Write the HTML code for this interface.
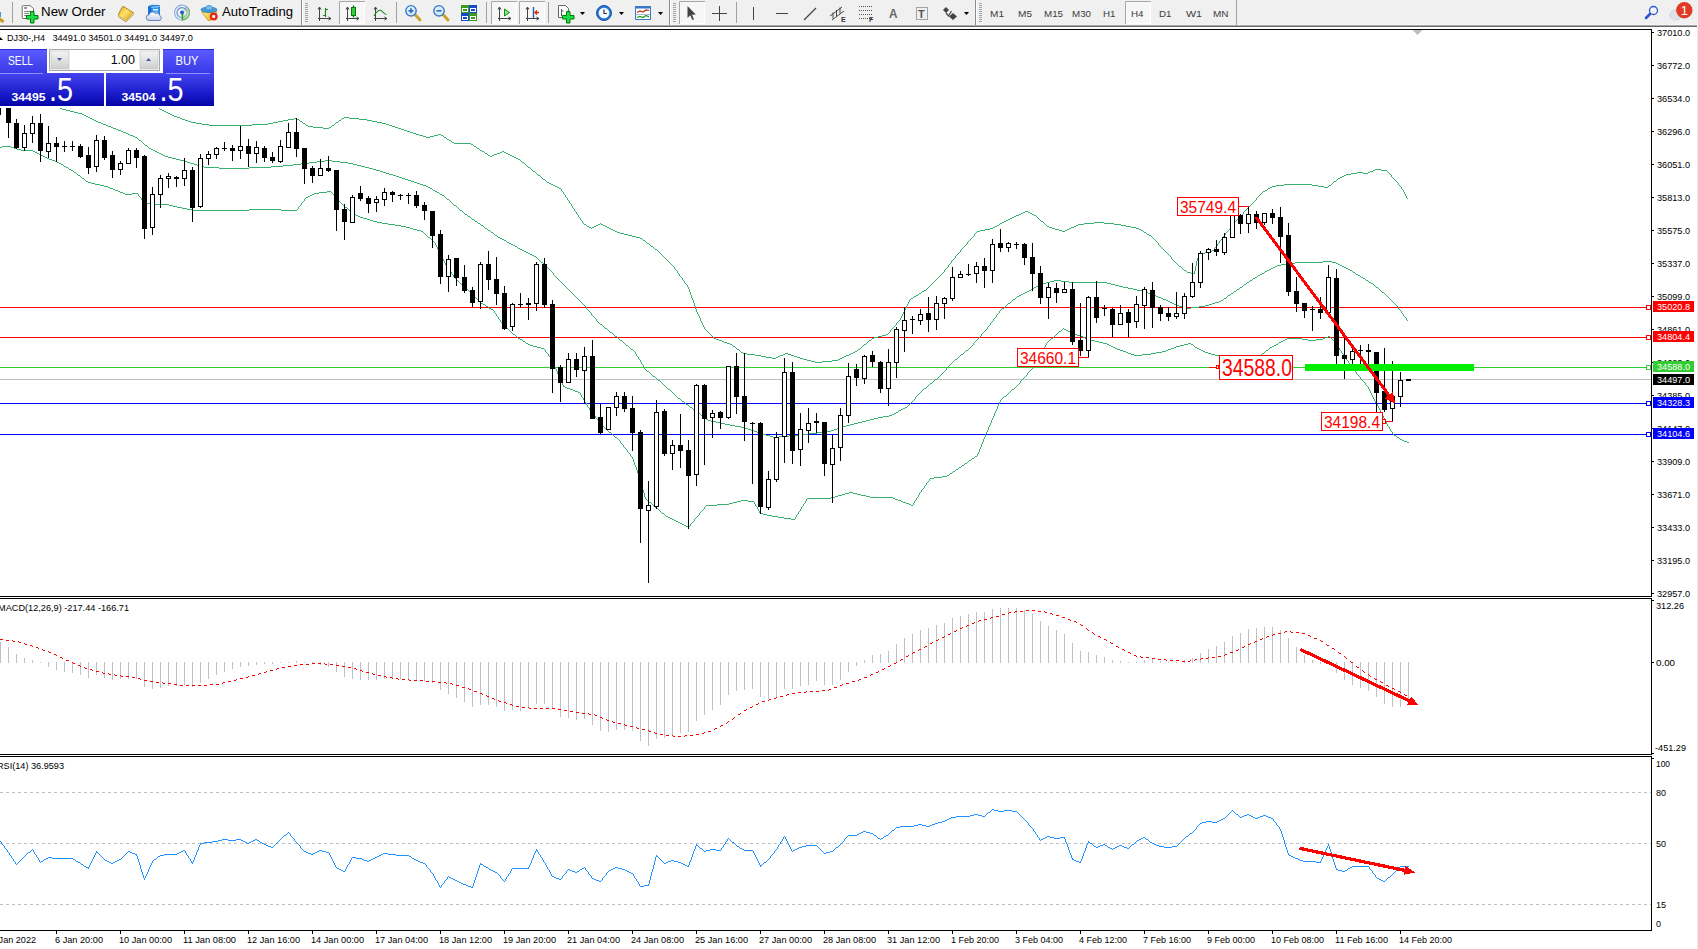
<!DOCTYPE html>
<html><head><meta charset="utf-8"><title>DJ30 H4</title>
<style>
html,body{margin:0;padding:0;background:#fff;}
body{width:1698px;height:949px;overflow:hidden;position:relative;font-family:"Liberation Sans",sans-serif;}
#tb{position:absolute;left:0;top:0;width:1698px;height:25px;background:#f0f0f0;}
#tbl1{position:absolute;left:0;top:25px;width:1698px;height:1px;background:#a0a0a0;}
#tbl2{position:absolute;left:0;top:26px;width:1698px;height:1px;background:#d4d4d4;}
#chart{position:absolute;left:0;top:0;}
.tbt{position:absolute;top:5px;font-size:13px;color:#000;white-space:nowrap;}
.tf{position:absolute;top:7px;font-size:10px;color:#222;white-space:nowrap;}
.sep{position:absolute;top:3px;width:1px;height:20px;background:#a0a0a0;}
.grip{position:absolute;top:3px;width:3px;height:20px;background:repeating-linear-gradient(to bottom,#a8a8a8 0,#a8a8a8 1px,#f0f0f0 1px,#f0f0f0 2px);}
</style></head><body>


<svg id="chart" width="1698" height="949" viewBox="0 0 1698 949">
<defs><clipPath id="mainclip"><rect x="0" y="30" width="1651" height="566"/></clipPath></defs>
<g shape-rendering="crispEdges">
<rect x="0" y="379" width="1651" height="1" fill="#c0c0c0"/>
<rect x="0" y="307" width="1651" height="1" fill="#ff0000"/>
<rect x="0" y="337" width="1651" height="1" fill="#ff0000"/>
<rect x="0" y="367" width="1651" height="1" fill="#32cd32"/>
<rect x="0" y="403" width="1651" height="1" fill="#0000ff"/>
<rect x="0" y="434" width="1651" height="1" fill="#0000ff"/>
</g>
<g clip-path="url(#mainclip)" shape-rendering="crispEdges">
<path d="M159 108.5h1M160 109.5h2M162 110.5h2M164 111.5h2M166 112.5h2M168 113.5h2M170 114.5h2M172 115.5h2M174 116.5h3M177 117.5h3M180 118.5h2M182 119.5h3M185 120.5h3M188 121.5h3M191 122.5h5M196 123.5h6M202 124.5h7M209 125.5h43M252 124.5h16M268 123.5h5M273 122.5h5M278 121.5h5M283 120.5h5M288 119.5h6M294 118.5h3M297 119.5h2M299 120.5h1M300 121.5h2M302 122.5h1M303 123.5h2M305 124.5h1M306 125.5h2M308 126.5h5M313 127.5h10M323 128.5h6M329 127.5h2M331 126.5h1M332 125.5h2M334 124.5h1M335 123.5h1M336 122.5h2M338 121.5h1M339 120.5h2M341 119.5h1M342 118.5h2M344 117.5h5M349 118.5h10M359 119.5h8M367 120.5h5M372 121.5h5M377 122.5h5M382 123.5h4M386 124.5h3M389 125.5h3M392 126.5h3M395 127.5h3M398 128.5h3M401 129.5h3M404 130.5h3M407 131.5h3M410 132.5h3M413 133.5h3M416 134.5h3M419 135.5h4M423 136.5h3M426 137.5h4M430 136.5h4M434 135.5h4M438 134.5h3M441 135.5h2M443 136.5h1M444 137.5h2M446 138.5h1M447 139.5h2M449 140.5h2M451 141.5h1M452 142.5h2M454 143.5h17M471 144.5h2M473 145.5h1M474 146.5h2M476 147.5h1M477 148.5h2M479 149.5h1M480 150.5h2M482 151.5h2M484 152.5h1M485 153.5h2M487 154.5h1M488 155.5h2M490 156.5h2M492 155.5h2M494 154.5h3M497 153.5h3M500 152.5h2M502 151.5h2M504 152.5h2M506 153.5h2M508 154.5h2M510 155.5h2M512 156.5h2M514 157.5h2M516 158.5h2M518 159.5h2M520 160.5h1M521 161.5h1M522 162.5h2M524 163.5h1M525 164.5h1M526 165.5h1M527 166.5h1M528 167.5h2M530 168.5h1M531 169.5h1M532 170.5h1M533 171.5h2M535 172.5h1M536 173.5h1M537 174.5h1M538 175.5h2M540 176.5h1M541 177.5h1M542 178.5h1M543 179.5h2M545 180.5h1M546 181.5h1M547 182.5h2M549 183.5h2M551 184.5h2M553 185.5h2M555 186.5h2M557 187.5h2M559 188.5h2M561.5 189v2M562 191.5h1M563.5 192v2M564 194.5h1M565.5 195v2M566 197.5h1M567.5 198v2M568 200.5h1M569.5 201v2M570 203.5h1M571.5 204v2M572.5 206v2M573 208.5h1M574.5 209v2M575 211.5h1M576.5 212v2M577 214.5h1M578.5 215v2M579 217.5h1M580.5 218v2M581 220.5h1M582.5 221v2M583 223.5h1M584 224.5h2M586 225.5h1M587 226.5h2M589 227.5h2M591 228.5h1M592 227.5h2M594 226.5h2M596 225.5h2M598 224.5h2M600 223.5h1M601 224.5h2M603 225.5h2M605 226.5h2M607 227.5h2M609 228.5h2M611 229.5h2M613 230.5h2M615 231.5h2M617 232.5h3M620 233.5h4M624 234.5h4M628 235.5h4M632 236.5h4M636 237.5h4M640 238.5h2M642 239.5h1M643 240.5h2M645 241.5h1M646 242.5h1M647 243.5h2M649 244.5h1M650 245.5h1M651 246.5h2M653 247.5h1M654 248.5h1M655 249.5h2M657 250.5h1M658 251.5h1M659 252.5h1M660 253.5h1M661 254.5h1M662 255.5h1M663 256.5h1M664 257.5h1M665 258.5h1M666 259.5h1M667 260.5h1M668 261.5h1M669 262.5h1M670 263.5h1M671 264.5h1M672 265.5h1M673 266.5h1M674.5 267v2M675 269.5h1M676 270.5h1M677.5 271v2M678 273.5h1M679.5 274v2M680 276.5h1M681 277.5h1M682.5 278v2M683 280.5h1M684.5 281v2M685 283.5h1M686 284.5h1M687.5 285v2M688.5 287v2M689.5 289v3M690.5 292v3M691.5 295v3M692.5 298v2M693.5 300v3M694.5 303v3M695.5 306v3M696.5 309v3M697.5 312v2M698.5 314v2M699.5 316v2M700.5 318v3M701.5 321v2M702.5 323v2M703.5 325v2M704.5 327v2M705 329.5h1M706 330.5h1M707 331.5h1M708 332.5h1M709 333.5h1M710 334.5h1M711 335.5h1M712 336.5h1M713 337.5h1M714 338.5h2M716 339.5h3M719 340.5h3M722 341.5h2M724 342.5h3M727 343.5h3M730 344.5h2M732 345.5h1M733 346.5h2M735 347.5h1M736 348.5h1M737 349.5h2M739 350.5h1M740 351.5h1M741 352.5h2M743 353.5h4M747 354.5h8M755 355.5h6M761 356.5h5M766 357.5h6M772 358.5h4M776 357.5h2M778 356.5h2M780 355.5h3M783 354.5h2M785 353.5h3M788 354.5h3M791 355.5h3M794 356.5h3M797 357.5h3M800 358.5h3M803 359.5h4M807 360.5h4M811 361.5h4M815 362.5h7M822 361.5h10M832 360.5h6M838 359.5h2M840 358.5h2M842 357.5h2M844 356.5h2M846 355.5h3M849 354.5h2M851 353.5h2M853 352.5h2M855 351.5h2M857 350.5h1M858 349.5h2M860 348.5h1M861 347.5h1M862 346.5h1M863 345.5h1M864 344.5h2M866 343.5h1M867 342.5h1M868 341.5h1M869 340.5h2M871 339.5h1M872 338.5h2M874 337.5h4M878 336.5h4M882 335.5h4M886 334.5h2M888 333.5h1M889 332.5h1M890.5 330v2M891 329.5h1M892 328.5h1M893 327.5h1M894 326.5h1M895 325.5h1M896.5 323v2M897 322.5h1M898 321.5h1M899 320.5h1M900.5 318v2M901.5 316v2M902.5 314v2M903.5 312v2M904.5 310v2M905.5 308v2M906.5 306v2M907.5 304v2M908.5 302v2M909.5 300v2M910 299.5h1M911 298.5h2M913 297.5h1M914 296.5h2M916 295.5h2M918 294.5h1M919 293.5h2M921 292.5h1M922 291.5h2M924 290.5h2M926 289.5h1M927 288.5h1M928 287.5h1M929 286.5h1M930 285.5h1M931 284.5h1M932 283.5h1M933 282.5h1M934 281.5h1M935 280.5h1M936 279.5h1M937 278.5h1M938 277.5h1M939 276.5h1M940 275.5h1M941 274.5h1M942 273.5h1M943 272.5h1M944.5 270v2M945 269.5h1M946 268.5h1M947 267.5h1M948.5 265v2M949 264.5h1M950 263.5h1M951.5 261v2M952 260.5h1M953 259.5h1M954 258.5h1M955.5 256v2M956 255.5h1M957 254.5h1M958 253.5h1M959 252.5h1M960.5 250v2M961 249.5h1M962 248.5h1M963 247.5h1M964 246.5h1M965 245.5h1M966 244.5h1M967.5 242v2M968 241.5h1M969 240.5h1M970 239.5h1M971 238.5h1M972 237.5h1M973 236.5h1M974.5 234v2M975 233.5h1M976 232.5h1M977 231.5h3M980 230.5h5M985 229.5h5M990 228.5h3M993 227.5h2M995 226.5h2M997 225.5h2M999 224.5h1M1000 223.5h2M1002 222.5h2M1004 221.5h2M1006 220.5h2M1008 219.5h2M1010 218.5h2M1012 217.5h2M1014 216.5h2M1016 215.5h3M1019 214.5h2M1021 213.5h2M1023 212.5h2M1025 211.5h3M1028 212.5h2M1030 213.5h2M1032 214.5h2M1034 215.5h2M1036 216.5h1M1037 217.5h1M1038 218.5h1M1039 219.5h1M1040 220.5h1M1041 221.5h2M1043 222.5h1M1044 223.5h1M1045 224.5h1M1046 225.5h1M1047 226.5h2M1049 227.5h3M1052 228.5h3M1055 229.5h4M1059 230.5h3M1062 231.5h3M1065 230.5h2M1067 229.5h2M1069 228.5h2M1071 227.5h3M1074 226.5h2M1076 225.5h2M1078 224.5h6M1084 223.5h10M1094 222.5h10M1104 223.5h10M1114 224.5h7M1121 225.5h5M1126 226.5h5M1131 227.5h5M1136 228.5h3M1139 229.5h2M1141 230.5h2M1143 231.5h1M1144 232.5h2M1146 233.5h1M1147 234.5h2M1149 235.5h2M1151 236.5h1M1152 237.5h1M1153 238.5h1M1154 239.5h1M1155 240.5h1M1156 241.5h1M1157 242.5h1M1158.5 243v2M1159 245.5h1M1160 246.5h1M1161 247.5h1M1162 248.5h1M1163 249.5h1M1164 250.5h1M1165 251.5h1M1166 252.5h1M1167 253.5h1M1168 254.5h1M1169 255.5h1M1170 256.5h1M1171.5 257v2M1172 259.5h1M1173 260.5h1M1174 261.5h1M1175 262.5h1M1176 263.5h1M1177 264.5h1M1178 265.5h1M1179 266.5h2M1181 267.5h1M1182 268.5h1M1183 269.5h1M1184 270.5h2M1186 271.5h1M1187 272.5h4M1191 273.5h4M1194.5 271v2M1195.5 266v5M1196.5 261v5M1197.5 258v3M1198 257.5h1M1199 256.5h1M1200 255.5h2M1202 254.5h1M1203 253.5h2M1205 252.5h3M1208 251.5h4M1212 250.5h2M1214.5 248v2M1215 247.5h1M1216 246.5h1M1217.5 244v2M1218 243.5h1M1219.5 241v2M1220 240.5h1M1221 239.5h1M1222.5 237v2M1223 236.5h1M1224 235.5h1M1225.5 233v2M1226 232.5h1M1227 231.5h1M1228 230.5h1M1229 229.5h1M1230.5 227v2M1231 226.5h1M1232 225.5h1M1233 224.5h1M1234.5 222v2M1235 221.5h1M1236 220.5h1M1237 219.5h1M1238 218.5h1M1239 217.5h1M1240 216.5h1M1241 215.5h1M1242 214.5h1M1243.5 212v2M1244 211.5h1M1245 210.5h1M1246 209.5h1M1247 208.5h1M1248 207.5h1M1249 206.5h1M1250 205.5h1M1251 204.5h1M1252 203.5h1M1253 202.5h1M1254 201.5h1M1255 200.5h1M1256.5 198v2M1257 197.5h1M1258 196.5h1M1259 195.5h1M1260 194.5h1M1261 193.5h1M1262 192.5h1M1263 191.5h2M1265 190.5h2M1267 189.5h1M1268 188.5h2M1270 187.5h2M1272 186.5h4M1276 185.5h8M1284 184.5h28M1312 185.5h6M1318 186.5h6M1324 187.5h4M1328 186.5h1M1329 185.5h2M1331 184.5h1M1332 183.5h1M1333 182.5h1M1334 181.5h2M1336 180.5h1M1337 179.5h1M1338 178.5h2M1340 177.5h2M1342 176.5h2M1344 175.5h2M1346 174.5h5M1351 173.5h6M1357 172.5h6M1363 173.5h5M1368 172.5h2M1370 171.5h3M1373 170.5h2M1375 169.5h6M1381 170.5h6M1387 171.5h1M1388 172.5h1M1389 173.5h1M1390 174.5h1M1391.5 175v2M1392 177.5h1M1393 178.5h1M1394 179.5h1M1395 180.5h1M1396 181.5h1M1397 182.5h1M1398.5 183v2M1399 185.5h1M1400 186.5h1M1401.5 187v2M1402 189.5h1M1403.5 190v2M1404.5 192v2M1405.5 194v2M1406.5 196v2M1407 198.5h1" fill="none" stroke="#3ab06e" stroke-width="1"/>
<path d="M60 108.5h2M62 109.5h4M66 110.5h4M70 111.5h4M74 112.5h4M78 113.5h4M82 114.5h2M84 115.5h2M86 116.5h2M88 117.5h2M90 118.5h2M92 119.5h2M94 120.5h2M96 121.5h2M98 122.5h3M101 123.5h2M103 124.5h3M106 125.5h2M108 126.5h3M111 127.5h2M113 128.5h3M116 129.5h2M118 130.5h3M121 131.5h2M123 132.5h3M126 133.5h2M128 134.5h2M130 135.5h3M133 136.5h2M135 137.5h2M137 138.5h1M138 139.5h1M139 140.5h2M141 141.5h1M142 142.5h1M143 143.5h1M144 144.5h1M145 145.5h2M147 146.5h1M148 147.5h1M149 148.5h2M151 149.5h2M153 150.5h2M155 151.5h2M157 152.5h2M159 153.5h2M161 154.5h2M163 155.5h2M165 156.5h3M168 157.5h4M172 158.5h4M176 159.5h4M180 160.5h4M184 161.5h3M187 162.5h3M190 163.5h4M194 164.5h3M197 165.5h3M200 166.5h4M204 167.5h15M219 168.5h30M249 167.5h22M271 166.5h12M283 165.5h10M293 164.5h8M301 163.5h8M309 162.5h8M317 161.5h8M325 160.5h7M332 161.5h8M340 162.5h8M348 163.5h5M353 164.5h4M357 165.5h4M361 166.5h4M365 167.5h4M369 168.5h4M373 169.5h3M376 170.5h4M380 171.5h3M383 172.5h3M386 173.5h3M389 174.5h4M393 175.5h3M396 176.5h3M399 177.5h3M402 178.5h3M405 179.5h3M408 180.5h3M411 181.5h3M414 182.5h3M417 183.5h3M420 184.5h3M423 185.5h3M426 186.5h2M428 187.5h2M430 188.5h2M432 189.5h1M433 190.5h2M435 191.5h2M437 192.5h2M439 193.5h1M440 194.5h2M442 195.5h2M444 196.5h1M445 197.5h1M446 198.5h1M447 199.5h2M449 200.5h1M450 201.5h1M451 202.5h1M452 203.5h1M453 204.5h1M454 205.5h2M456 206.5h1M457 207.5h1M458 208.5h1M459 209.5h1M460 210.5h2M462 211.5h1M463 212.5h1M464 213.5h1M465 214.5h2M467 215.5h1M468 216.5h2M470 217.5h1M471 218.5h1M472 219.5h2M474 220.5h1M475 221.5h2M477 222.5h1M478 223.5h2M480 224.5h1M481 225.5h2M483 226.5h1M484 227.5h1M485 228.5h2M487 229.5h1M488 230.5h2M490 231.5h1M491 232.5h2M493 233.5h1M494 234.5h1M495 235.5h2M497 236.5h1M498 237.5h2M500 238.5h2M502 239.5h2M504 240.5h2M506 241.5h1M507 242.5h2M509 243.5h2M511 244.5h2M513 245.5h2M515 246.5h2M517 247.5h1M518 248.5h2M520 249.5h2M522 250.5h2M524 251.5h2M526 252.5h2M528 253.5h2M530 254.5h2M532 255.5h2M534 256.5h2M536 257.5h1M537 258.5h1M538 259.5h1M539 260.5h1M540 261.5h1M541 262.5h2M543 263.5h1M544 264.5h1M545 265.5h1M546 266.5h1M547 267.5h1M548 268.5h1M549 269.5h1M550 270.5h1M551 271.5h1M552 272.5h1M553.5 273v2M554 275.5h1M555 276.5h1M556 277.5h1M557 278.5h1M558 279.5h1M559 280.5h1M560 281.5h1M561 282.5h1M562 283.5h1M563 284.5h1M564 285.5h1M565 286.5h1M566 287.5h1M567 288.5h1M568 289.5h1M569 290.5h1M570 291.5h1M571 292.5h1M572 293.5h1M573 294.5h1M574 295.5h1M575 296.5h1M576 297.5h1M577 298.5h1M578 299.5h1M579 300.5h1M580 301.5h1M581 302.5h1M582 303.5h1M583 304.5h1M584 305.5h1M585 306.5h1M586.5 307v2M587 309.5h1M588 310.5h1M589 311.5h1M590 312.5h1M591.5 313v2M592 315.5h1M593 316.5h1M594 317.5h1M595 318.5h1M596.5 319v2M597 321.5h1M598 322.5h1M599 323.5h1M600 324.5h2M602 325.5h1M603 326.5h1M604 327.5h1M605 328.5h2M607 329.5h1M608 330.5h1M609 331.5h1M610 332.5h2M612 333.5h1M613 334.5h1M614 335.5h1M615 336.5h2M617 337.5h1M618 338.5h1M619 339.5h1M620 340.5h2M622 341.5h1M623 342.5h1M624 343.5h1M625 344.5h1M626 345.5h2M628 346.5h1M629 347.5h1M630 348.5h1M631 349.5h2M633 350.5h1M634 351.5h1M635.5 352v2M636.5 354v2M637 356.5h1M638.5 357v2M639 359.5h1M640.5 360v2M641.5 362v2M642 364.5h1M643.5 365v2M644.5 367v2M645 369.5h1M646 370.5h1M647 371.5h2M649 372.5h1M650 373.5h1M651 374.5h1M652 375.5h1M653 376.5h2M655 377.5h1M656 378.5h1M657 379.5h1M658 380.5h2M660 381.5h1M661 382.5h1M662 383.5h1M663 384.5h1M664 385.5h1M665 386.5h1M666 387.5h1M667 388.5h1M668 389.5h2M670 390.5h1M671 391.5h1M672 392.5h1M673 393.5h1M674 394.5h1M675 395.5h1M676 396.5h1M677 397.5h1M678 398.5h2M680 399.5h1M681 400.5h1M682 401.5h2M684 402.5h1M685 403.5h1M686 404.5h2M688 405.5h1M689 406.5h1M690 407.5h2M692 408.5h1M693 409.5h1M694 410.5h2M696 411.5h1M697 412.5h1M698 413.5h2M700 414.5h1M701 415.5h1M702 416.5h2M704 417.5h1M705 418.5h1M706 419.5h2M708 420.5h3M711 421.5h5M716 422.5h4M720 423.5h5M725 424.5h5M730 425.5h5M735 426.5h6M741 427.5h4M745 428.5h3M748 429.5h3M751 430.5h3M754 431.5h3M757 432.5h3M760 433.5h3M763 434.5h3M766 435.5h4M770 436.5h3M773 437.5h6M779 436.5h10M789 435.5h10M799 434.5h10M809 433.5h8M817 432.5h8M825 431.5h6M831 430.5h3M834 429.5h3M837 428.5h3M840 427.5h3M843 426.5h3M846 425.5h4M850 424.5h4M854 423.5h4M858 422.5h4M862 421.5h4M866 420.5h4M870 419.5h4M874 418.5h4M878 417.5h5M883 416.5h6M889 415.5h3M892 414.5h2M894 413.5h2M896 412.5h2M898 411.5h1M899 410.5h2M901 409.5h2M903 408.5h2M905 407.5h2M907 406.5h1M908 405.5h1M909 404.5h1M910 403.5h1M911 402.5h1M912 401.5h1M913 400.5h1M914 399.5h1M915.5 397v2M916 396.5h1M917 395.5h1M918 394.5h1M919 393.5h1M920 392.5h1M921 391.5h1M922 390.5h1M923 389.5h1M924 388.5h2M926 387.5h1M927 386.5h1M928 385.5h1M929 384.5h1M930 383.5h2M932 382.5h1M933 381.5h1M934 380.5h1M935 379.5h2M937 378.5h1M938 377.5h1M939 376.5h1M940 375.5h1M941 374.5h1M942 373.5h1M943 372.5h1M944 371.5h1M945 370.5h1M946.5 368v2M947 367.5h1M948 366.5h1M949 365.5h1M950 364.5h1M951 363.5h1M952 362.5h1M953 361.5h1M954 360.5h1M955 359.5h2M957 358.5h1M958 357.5h1M959 356.5h1M960 355.5h1M961 354.5h2M963 353.5h1M964 352.5h1M965 351.5h1M966 350.5h2M968 349.5h1M969 348.5h1M970 347.5h1M971 346.5h1M972 345.5h1M973.5 343v2M974 342.5h1M975 341.5h1M976 340.5h1M977 339.5h1M978 338.5h1M979 337.5h1M980 336.5h1M981.5 334v2M982 333.5h1M983 332.5h1M984 331.5h1M985 330.5h1M986 329.5h1M987.5 327v2M988 326.5h1M989 325.5h1M990.5 323v2M991 322.5h1M992 321.5h1M993.5 319v2M994 318.5h1M995 317.5h1M996.5 315v2M997 314.5h1M998 313.5h1M999.5 311v2M1000 310.5h1M1001 309.5h1M1002 308.5h2M1004 307.5h1M1005 306.5h1M1006 305.5h1M1007 304.5h1M1008 303.5h2M1010 302.5h1M1011 301.5h1M1012 300.5h1M1013 299.5h2M1015 298.5h1M1016 297.5h1M1017 296.5h2M1019 295.5h2M1021 294.5h2M1023 293.5h2M1025 292.5h2M1027 291.5h2M1029 290.5h2M1031 289.5h1M1032 288.5h2M1034 287.5h2M1036 286.5h2M1038 285.5h2M1040 284.5h2M1042 283.5h4M1046 282.5h4M1050 281.5h4M1054 280.5h7M1061 281.5h8M1069 282.5h38M1107 283.5h4M1111 284.5h4M1115 285.5h4M1119 286.5h4M1123 287.5h5M1128 288.5h5M1133 289.5h4M1137 290.5h5M1142 291.5h4M1146 292.5h2M1148 293.5h3M1151 294.5h2M1153 295.5h3M1156 296.5h2M1158 297.5h3M1161 298.5h2M1163 299.5h3M1166 300.5h2M1168 301.5h2M1170 302.5h2M1172 303.5h2M1174 304.5h2M1176 305.5h3M1179 306.5h3M1182 307.5h4M1186 308.5h5M1191 307.5h8M1199 306.5h6M1205 305.5h4M1209 304.5h3M1212 303.5h3M1215 302.5h4M1219 301.5h2M1221 300.5h2M1223 299.5h1M1224 298.5h2M1226 297.5h1M1227 296.5h1M1228 295.5h2M1230 294.5h1M1231 293.5h2M1233 292.5h1M1234 291.5h2M1236 290.5h1M1237 289.5h2M1239 288.5h1M1240 287.5h2M1242 286.5h1M1243 285.5h1M1244 284.5h2M1246 283.5h1M1247 282.5h2M1249 281.5h1M1250 280.5h2M1252 279.5h1M1253 278.5h2M1255 277.5h2M1257 276.5h1M1258 275.5h2M1260 274.5h2M1262 273.5h2M1264 272.5h1M1265 271.5h2M1267 270.5h2M1269 269.5h2M1271 268.5h2M1273 267.5h2M1275 266.5h2M1277 265.5h4M1281 264.5h5M1286 263.5h9M1295 262.5h28M1323 261.5h9M1332 262.5h4M1336 263.5h2M1338 264.5h2M1340 265.5h2M1342 266.5h2M1344 267.5h2M1346 268.5h2M1348 269.5h2M1350 270.5h2M1352 271.5h1M1353 272.5h2M1355 273.5h1M1356 274.5h2M1358 275.5h2M1360 276.5h1M1361 277.5h2M1363 278.5h2M1365 279.5h1M1366 280.5h2M1368 281.5h1M1369 282.5h2M1371 283.5h2M1373 284.5h1M1374 285.5h1M1375 286.5h1M1376 287.5h2M1378 288.5h1M1379 289.5h1M1380 290.5h1M1381 291.5h1M1382 292.5h2M1384 293.5h1M1385 294.5h1M1386 295.5h1M1387 296.5h1M1388 297.5h1M1389 298.5h1M1390 299.5h1M1391 300.5h1M1392 301.5h1M1393 302.5h1M1394 303.5h1M1395 304.5h1M1396 305.5h1M1397 306.5h1M1398.5 307v2M1399 309.5h1M1400 310.5h1M1401.5 311v2M1402 313.5h1M1403.5 314v2M1404 316.5h1M1405 317.5h1M1406.5 318v2M1407 320.5h1" fill="none" stroke="#3ab06e" stroke-width="1"/>
<path d="M0 147.5h2M2 146.5h9M11 147.5h3M14 148.5h3M17 149.5h4M21 150.5h12M33 151.5h2M35 152.5h2M37 153.5h2M39 154.5h2M41 155.5h2M43 156.5h2M45 157.5h2M47 158.5h2M49 159.5h3M52 160.5h3M55 161.5h2M57 162.5h2M59 163.5h2M61 164.5h2M63 165.5h1M64 166.5h2M66 167.5h2M68 168.5h1M69 169.5h2M71 170.5h2M73 171.5h1M74 172.5h2M76 173.5h1M77 174.5h1M78 175.5h2M80 176.5h1M81 177.5h1M82 178.5h2M84 179.5h1M85 180.5h1M86 181.5h2M88 182.5h3M91 183.5h4M95 184.5h5M100 185.5h4M104 186.5h4M108 187.5h2M110 188.5h3M113 189.5h2M115 190.5h3M118 191.5h2M120 192.5h3M123 193.5h2M125 194.5h7M132 193.5h6M138.5 194v2M139 196.5h1M140 197.5h1M141.5 198v2M142 200.5h1M143.5 201v2M144 203.5h11M155 204.5h14M169 205.5h4M173 206.5h4M177 207.5h5M182 208.5h5M187 209.5h6M193 210.5h56M249 209.5h32M281 210.5h16M297 209.5h1M298.5 207v2M299 206.5h1M300 205.5h1M301.5 203v2M302 202.5h1M303 201.5h1M304.5 199v2M305 198.5h1M306 197.5h2M308 196.5h2M310 195.5h2M312 194.5h2M314 193.5h5M319 192.5h8M327 191.5h4M331 192.5h1M332 193.5h1M333 194.5h1M334 195.5h1M335 196.5h1M336 197.5h1M337.5 198v2M338 200.5h1M339 201.5h1M340 202.5h1M341 203.5h1M342 204.5h1M343 205.5h1M344 206.5h1M345 207.5h2M347 208.5h1M348 209.5h1M349 210.5h2M351 211.5h1M352 212.5h2M354 213.5h1M355 214.5h1M356 215.5h2M358 216.5h2M360 217.5h3M363 218.5h4M367 219.5h3M370 220.5h3M373 221.5h4M377 222.5h5M382 223.5h6M388 224.5h7M395 225.5h6M401 226.5h5M406 227.5h4M410 228.5h3M413 229.5h4M417 230.5h4M421 231.5h2M423 232.5h1M424 233.5h1M425 234.5h1M426 235.5h1M427 236.5h1M428 237.5h2M430 238.5h1M431 239.5h1M432 240.5h1M433 241.5h1M434 242.5h1M435.5 243v2M436.5 245v2M437.5 247v2M438.5 249v2M439.5 251v2M440.5 253v2M441.5 255v2M442.5 257v2M443.5 259v2M444.5 261v2M445.5 263v2M446 265.5h1M447.5 266v2M448 268.5h1M449.5 269v2M450 271.5h1M451.5 272v2M452 274.5h1M453.5 275v2M454 277.5h1M455 278.5h1M456 279.5h1M457 280.5h1M458 281.5h1M459 282.5h1M460 283.5h1M461 284.5h1M462 285.5h2M464 286.5h1M465 287.5h1M466 288.5h1M467 289.5h1M468 290.5h1M469 291.5h1M470 292.5h1M471 293.5h1M472 294.5h1M473 295.5h1M474 296.5h1M475 297.5h1M476 298.5h1M477 299.5h1M478 300.5h1M479 301.5h1M480 302.5h1M481 303.5h2M483 304.5h2M485 305.5h1M486 306.5h2M488 307.5h1M489 308.5h2M491 309.5h2M493 310.5h1M494.5 311v2M495 313.5h1M496.5 314v2M497 316.5h1M498.5 317v2M499 319.5h1M500.5 320v2M501 322.5h1M502.5 323v2M503 325.5h1M504 326.5h1M505 327.5h1M506 328.5h2M508 329.5h1M509 330.5h1M510 331.5h1M511 332.5h1M512 333.5h1M513 334.5h2M515 335.5h1M516 336.5h1M517 337.5h1M518 338.5h2M520 339.5h2M522 340.5h1M523 341.5h2M525 342.5h1M526 343.5h2M528 344.5h2M530 345.5h3M533 346.5h4M537 347.5h4M541 348.5h3M544 349.5h1M545.5 350v2M546 352.5h1M547 353.5h1M548.5 354v2M549 356.5h1M550 357.5h1M551.5 358v2M552.5 360v2M553.5 362v2M554.5 364v3M555.5 367v2M556.5 369v2M557.5 371v3M558.5 374v2M559.5 376v2M560.5 378v3M561.5 381v2M562.5 383v2M563.5 385v2M564 386.5h1M565 387.5h2M567 388.5h3M570 389.5h3M573 390.5h2M575 391.5h3M578 392.5h2M580.5 393v2M581.5 395v2M582 397.5h1M583.5 398v2M584.5 400v2M585 402.5h1M586.5 403v2M587.5 405v2M588 407.5h1M589.5 408v2M590.5 410v2M591 412.5h1M592 413.5h1M593 414.5h1M594 415.5h1M595.5 416v2M596 418.5h1M597 419.5h1M598 420.5h1M599 421.5h1M600 422.5h1M601 423.5h1M602.5 424v2M603 426.5h1M604 427.5h1M605 428.5h1M606 429.5h1M607 430.5h1M608 431.5h1M609 432.5h2M611 433.5h1M612 434.5h1M613 435.5h1M614 436.5h1M615 437.5h2M617 438.5h1M618 439.5h1M619 440.5h1M620.5 441v2M621 443.5h1M622 444.5h1M623.5 445v2M624 447.5h1M625 448.5h1M626 449.5h1M627.5 450v2M628 452.5h1M629 453.5h1M630.5 454v2M631 456.5h1M632.5 457v2M633.5 459v3M634.5 462v3M635.5 465v2M636.5 467v3M637.5 470v3M638.5 473v3M639.5 476v4M640.5 480v3M641.5 483v3M642.5 486v4M643.5 490v3M644.5 493v4M645.5 497v2M646 499.5h1M647 500.5h1M648 501.5h1M649 502.5h2M651 503.5h1M652 504.5h1M653 505.5h1M654 506.5h1M655 507.5h1M656 508.5h2M658 509.5h1M659 510.5h1M660 511.5h1M661 512.5h1M662 513.5h2M664 514.5h1M665 515.5h1M666 516.5h2M668 517.5h2M670 518.5h2M672 519.5h2M674 520.5h2M676 521.5h2M678 522.5h2M680 523.5h2M682 524.5h2M684 525.5h2M686 526.5h2M688 527.5h1M689 526.5h1M690.5 524v2M691 523.5h1M692 522.5h1M693 521.5h1M694.5 519v2M695 518.5h1M696 517.5h1M697 516.5h1M698 515.5h1M699.5 513v2M700 512.5h1M701 511.5h1M702 510.5h1M703 509.5h1M704.5 507v2M705 506.5h1M706 505.5h11M717 504.5h12M729 503.5h4M733 502.5h4M737 501.5h4M741 500.5h7M748 501.5h6M754.5 502v2M755.5 504v2M756 506.5h1M757.5 507v2M758.5 509v2M759.5 511v2M760 513.5h3M763 514.5h4M767 515.5h5M772 516.5h6M778 517.5h6M784 518.5h7M791 519.5h4M795.5 517v2M796.5 515v2M797 514.5h1M798.5 512v2M799 511.5h1M800.5 509v2M801.5 507v2M802 506.5h1M803.5 504v2M804 503.5h1M805.5 501v2M806.5 499v2M807 498.5h24M831 497.5h4M835 496.5h3M838 495.5h4M842 494.5h3M845 493.5h4M849 492.5h4M853 493.5h4M857 494.5h4M861 495.5h5M866 496.5h4M870 497.5h23M893 498.5h2M895 499.5h3M898 500.5h3M901 501.5h2M903 502.5h3M906 503.5h3M909 504.5h2M911 505.5h2M913.5 503v2M914.5 501v2M915 500.5h1M916.5 498v2M917 497.5h1M918.5 495v2M919.5 493v2M920 492.5h1M921.5 490v2M922 489.5h1M923 488.5h1M924.5 486v2M925 485.5h1M926.5 483v2M927 482.5h1M928 481.5h1M929.5 479v2M930 478.5h4M934 477.5h8M942 476.5h5M947 475.5h2M949 474.5h1M950 473.5h2M952 472.5h1M953 471.5h2M955 470.5h1M956 469.5h2M958 468.5h1M959 467.5h2M961 466.5h1M962 465.5h2M964 464.5h1M965 463.5h2M967 462.5h1M968 461.5h1M969 460.5h2M971 459.5h1M972 458.5h2M974 457.5h1M975 456.5h2M977.5 454v2M978.5 452v2M979.5 449v3M980.5 447v2M981.5 444v3M982.5 442v2M983.5 439v3M984.5 437v2M985.5 434v3M986.5 432v2M987.5 430v2M988.5 427v3M989.5 425v2M990.5 423v2M991.5 420v3M992.5 418v2M993.5 416v2M994.5 413v3M995.5 411v2M996.5 409v2M997.5 406v3M998.5 404v2M999.5 402v2M1000.5 400v2M1001 399.5h1M1002 398.5h1M1003 397.5h1M1004 396.5h2M1006 395.5h1M1007 394.5h1M1008 393.5h1M1009 392.5h1M1010 391.5h1M1011 390.5h1M1012 389.5h2M1014 388.5h1M1015 387.5h1M1016 386.5h1M1017 385.5h1M1018 384.5h1M1019 383.5h1M1020.5 381v2M1021 380.5h1M1022 379.5h1M1023 378.5h1M1024 377.5h1M1025 376.5h1M1026 375.5h1M1027.5 373v2M1028 372.5h1M1029 371.5h1M1030 370.5h1M1031 369.5h1M1032.5 367v2M1033.5 365v2M1034 364.5h1M1035.5 362v2M1036.5 360v2M1037 359.5h1M1038.5 357v2M1039.5 355v2M1040.5 353v2M1041 352.5h1M1042.5 350v2M1043.5 348v2M1044 347.5h1M1045.5 345v2M1046.5 343v2M1047 342.5h1M1048 341.5h1M1049 340.5h1M1050 339.5h1M1051 338.5h2M1053 337.5h1M1054 336.5h1M1055 335.5h1M1056 334.5h1M1057 333.5h1M1058 332.5h1M1059 331.5h2M1061 330.5h1M1062 329.5h1M1063 328.5h1M1064 329.5h2M1066 330.5h2M1068 331.5h2M1070 332.5h2M1072 333.5h3M1075 334.5h2M1077 335.5h3M1080 336.5h3M1083 337.5h2M1085 338.5h3M1088 339.5h3M1091 340.5h4M1095 341.5h4M1099 342.5h4M1103 343.5h4M1107 344.5h2M1109 345.5h2M1111 346.5h2M1113 347.5h2M1115 348.5h2M1117 349.5h3M1120 350.5h3M1123 351.5h3M1126 352.5h2M1128 353.5h3M1131 354.5h3M1134 355.5h8M1142 354.5h9M1151 353.5h5M1156 352.5h6M1162 351.5h4M1166 350.5h2M1168 349.5h3M1171 348.5h3M1174 347.5h2M1176 346.5h4M1180 345.5h4M1184 344.5h4M1188 343.5h3M1191 344.5h2M1193 345.5h1M1194 346.5h1M1195 347.5h2M1197 348.5h2M1199 349.5h2M1201 350.5h2M1203 351.5h2M1205 352.5h3M1208 353.5h3M1211 354.5h4M1215 355.5h5M1220 356.5h7M1227 357.5h8M1235 358.5h7M1242 357.5h7M1249 356.5h8M1257 355.5h4M1261 354.5h1M1262 353.5h2M1264 352.5h1M1265 351.5h1M1266 350.5h2M1268 349.5h1M1269 348.5h1M1270 347.5h2M1272 346.5h2M1274 345.5h2M1276 344.5h2M1278 343.5h1M1279 342.5h2M1281 341.5h2M1283 340.5h2M1285 339.5h2M1287 338.5h15M1302 339.5h6M1308 340.5h8M1316 339.5h7M1323 338.5h2M1325 337.5h3M1328 336.5h2M1330 337.5h1M1331 338.5h1M1332 339.5h1M1333 340.5h1M1334 341.5h1M1335.5 342v2M1336 344.5h1M1337.5 345v2M1338 347.5h1M1339.5 348v2M1340 350.5h1M1341.5 351v2M1342 353.5h1M1343.5 354v2M1344 356.5h1M1345 357.5h1M1346.5 358v2M1347 360.5h1M1348.5 361v2M1349 363.5h1M1350.5 364v2M1351 366.5h1M1352 367.5h1M1353.5 368v2M1354 370.5h1M1355 371.5h1M1356.5 372v2M1357 374.5h1M1358 375.5h1M1359 376.5h1M1360.5 377v2M1361 379.5h1M1362 380.5h1M1363 381.5h1M1364 382.5h1M1365.5 383v2M1366 385.5h1M1367 386.5h1M1368.5 387v2M1369.5 389v2M1370.5 391v2M1371.5 393v2M1372.5 395v2M1373.5 397v2M1374.5 399v2M1375.5 401v2M1376 403.5h1M1377.5 404v2M1378.5 406v2M1379.5 408v2M1380.5 410v2M1381.5 412v2M1382.5 414v2M1383.5 416v2M1384.5 418v2M1385.5 420v2M1386.5 422v2M1387.5 424v2M1388 426.5h1M1389.5 427v2M1390.5 429v2M1391 431.5h1M1392.5 432v2M1393 434.5h1M1394 435.5h2M1396 436.5h1M1397 437.5h2M1399 438.5h1M1400 439.5h2M1402 440.5h2M1404 441.5h3M1407 442.5h2" fill="none" stroke="#3ab06e" stroke-width="1"/>
</g>
<g shape-rendering="crispEdges" clip-path="url(#mainclip)">
<rect x="0" y="108" width="1" height="7" fill="#000"/>
<rect x="8" y="108" width="1" height="30" fill="#000"/>
<rect x="6" y="108" width="5" height="15" fill="#000"/>
<rect x="16" y="119" width="1" height="30" fill="#000"/>
<rect x="14" y="123" width="5" height="25" fill="#000"/>
<rect x="24" y="125" width="1" height="26" fill="#000"/>
<rect x="22" y="133" width="5" height="15" fill="#000"/>
<rect x="23" y="134" width="3" height="13" fill="#fff"/>
<rect x="32" y="116" width="1" height="27" fill="#000"/>
<rect x="30" y="123" width="5" height="11" fill="#000"/>
<rect x="31" y="124" width="3" height="9" fill="#fff"/>
<rect x="40" y="114" width="1" height="48" fill="#000"/>
<rect x="38" y="123" width="5" height="28" fill="#000"/>
<rect x="48" y="126" width="1" height="32" fill="#000"/>
<rect x="46" y="143" width="5" height="9" fill="#000"/>
<rect x="47" y="144" width="3" height="7" fill="#fff"/>
<rect x="56" y="137" width="1" height="25" fill="#000"/>
<rect x="54" y="143" width="5" height="4" fill="#000"/>
<rect x="64" y="141" width="1" height="11" fill="#000"/>
<rect x="62" y="146" width="5" height="1" fill="#000"/>
<rect x="72" y="141" width="1" height="10" fill="#000"/>
<rect x="70" y="146" width="5" height="1" fill="#000"/>
<rect x="80" y="144" width="1" height="14" fill="#000"/>
<rect x="78" y="146" width="5" height="11" fill="#000"/>
<rect x="88" y="147" width="1" height="27" fill="#000"/>
<rect x="86" y="155" width="5" height="13" fill="#000"/>
<rect x="96" y="135" width="1" height="37" fill="#000"/>
<rect x="94" y="140" width="5" height="27" fill="#000"/>
<rect x="95" y="141" width="3" height="25" fill="#fff"/>
<rect x="104" y="136" width="1" height="24" fill="#000"/>
<rect x="102" y="140" width="5" height="18" fill="#000"/>
<rect x="112" y="151" width="1" height="27" fill="#000"/>
<rect x="110" y="155" width="5" height="15" fill="#000"/>
<rect x="120" y="161" width="1" height="14" fill="#000"/>
<rect x="118" y="163" width="5" height="7" fill="#000"/>
<rect x="119" y="164" width="3" height="5" fill="#fff"/>
<rect x="128" y="148" width="1" height="16" fill="#000"/>
<rect x="126" y="150" width="5" height="14" fill="#000"/>
<rect x="127" y="151" width="3" height="12" fill="#fff"/>
<rect x="136" y="148" width="1" height="20" fill="#000"/>
<rect x="134" y="150" width="5" height="8" fill="#000"/>
<rect x="144" y="155" width="1" height="84" fill="#000"/>
<rect x="142" y="156" width="5" height="73" fill="#000"/>
<rect x="152" y="187" width="1" height="48" fill="#000"/>
<rect x="150" y="194" width="5" height="34" fill="#000"/>
<rect x="151" y="195" width="3" height="32" fill="#fff"/>
<rect x="160" y="175" width="1" height="33" fill="#000"/>
<rect x="158" y="178" width="5" height="17" fill="#000"/>
<rect x="159" y="179" width="3" height="15" fill="#fff"/>
<rect x="168" y="173" width="1" height="15" fill="#000"/>
<rect x="166" y="176" width="5" height="3" fill="#000"/>
<rect x="167" y="177" width="3" height="1" fill="#fff"/>
<rect x="176" y="176" width="1" height="11" fill="#000"/>
<rect x="174" y="177" width="5" height="2" fill="#000"/>
<rect x="184" y="158" width="1" height="28" fill="#000"/>
<rect x="182" y="170" width="5" height="9" fill="#000"/>
<rect x="183" y="171" width="3" height="7" fill="#fff"/>
<rect x="192" y="167" width="1" height="55" fill="#000"/>
<rect x="190" y="170" width="5" height="38" fill="#000"/>
<rect x="200" y="154" width="1" height="54" fill="#000"/>
<rect x="198" y="158" width="5" height="49" fill="#000"/>
<rect x="199" y="159" width="3" height="47" fill="#fff"/>
<rect x="208" y="151" width="1" height="14" fill="#000"/>
<rect x="206" y="154" width="5" height="5" fill="#000"/>
<rect x="207" y="155" width="3" height="3" fill="#fff"/>
<rect x="216" y="147" width="1" height="12" fill="#000"/>
<rect x="214" y="148" width="5" height="7" fill="#000"/>
<rect x="215" y="149" width="3" height="5" fill="#fff"/>
<rect x="224" y="142" width="1" height="9" fill="#000"/>
<rect x="222" y="148" width="5" height="1" fill="#000"/>
<rect x="232" y="145" width="1" height="16" fill="#000"/>
<rect x="230" y="148" width="5" height="3" fill="#000"/>
<rect x="240" y="126" width="1" height="33" fill="#000"/>
<rect x="238" y="146" width="5" height="5" fill="#000"/>
<rect x="239" y="147" width="3" height="3" fill="#fff"/>
<rect x="248" y="139" width="1" height="28" fill="#000"/>
<rect x="246" y="146" width="5" height="8" fill="#000"/>
<rect x="256" y="141" width="1" height="22" fill="#000"/>
<rect x="254" y="147" width="5" height="7" fill="#000"/>
<rect x="255" y="148" width="3" height="5" fill="#fff"/>
<rect x="264" y="146" width="1" height="16" fill="#000"/>
<rect x="262" y="148" width="5" height="10" fill="#000"/>
<rect x="272" y="152" width="1" height="11" fill="#000"/>
<rect x="270" y="157" width="5" height="4" fill="#000"/>
<rect x="280" y="140" width="1" height="23" fill="#000"/>
<rect x="278" y="146" width="5" height="16" fill="#000"/>
<rect x="279" y="147" width="3" height="14" fill="#fff"/>
<rect x="288" y="123" width="1" height="25" fill="#000"/>
<rect x="286" y="132" width="5" height="16" fill="#000"/>
<rect x="287" y="133" width="3" height="14" fill="#fff"/>
<rect x="296" y="118" width="1" height="39" fill="#000"/>
<rect x="294" y="132" width="5" height="17" fill="#000"/>
<rect x="304" y="148" width="1" height="36" fill="#000"/>
<rect x="302" y="148" width="5" height="21" fill="#000"/>
<rect x="312" y="166" width="1" height="17" fill="#000"/>
<rect x="310" y="168" width="5" height="8" fill="#000"/>
<rect x="320" y="159" width="1" height="17" fill="#000"/>
<rect x="318" y="168" width="5" height="8" fill="#000"/>
<rect x="319" y="169" width="3" height="6" fill="#fff"/>
<rect x="328" y="156" width="1" height="16" fill="#000"/>
<rect x="326" y="168" width="5" height="3" fill="#000"/>
<rect x="336" y="170" width="1" height="61" fill="#000"/>
<rect x="334" y="170" width="5" height="40" fill="#000"/>
<rect x="344" y="204" width="1" height="36" fill="#000"/>
<rect x="342" y="209" width="5" height="13" fill="#000"/>
<rect x="352" y="195" width="1" height="28" fill="#000"/>
<rect x="350" y="197" width="5" height="26" fill="#000"/>
<rect x="351" y="198" width="3" height="24" fill="#fff"/>
<rect x="360" y="186" width="1" height="15" fill="#000"/>
<rect x="358" y="193" width="5" height="6" fill="#000"/>
<rect x="368" y="196" width="1" height="17" fill="#000"/>
<rect x="366" y="198" width="5" height="6" fill="#000"/>
<rect x="376" y="196" width="1" height="16" fill="#000"/>
<rect x="374" y="199" width="5" height="4" fill="#000"/>
<rect x="375" y="200" width="3" height="2" fill="#fff"/>
<rect x="384" y="188" width="1" height="18" fill="#000"/>
<rect x="382" y="192" width="5" height="8" fill="#000"/>
<rect x="383" y="193" width="3" height="6" fill="#fff"/>
<rect x="392" y="191" width="1" height="11" fill="#000"/>
<rect x="390" y="192" width="5" height="3" fill="#000"/>
<rect x="400" y="194" width="1" height="6" fill="#000"/>
<rect x="398" y="195" width="5" height="1" fill="#000"/>
<rect x="408" y="193" width="1" height="11" fill="#000"/>
<rect x="406" y="195" width="5" height="1" fill="#000"/>
<rect x="416" y="191" width="1" height="17" fill="#000"/>
<rect x="414" y="195" width="5" height="11" fill="#000"/>
<rect x="424" y="202" width="1" height="18" fill="#000"/>
<rect x="422" y="205" width="5" height="6" fill="#000"/>
<rect x="432" y="211" width="1" height="37" fill="#000"/>
<rect x="430" y="211" width="5" height="25" fill="#000"/>
<rect x="440" y="230" width="1" height="54" fill="#000"/>
<rect x="438" y="234" width="5" height="43" fill="#000"/>
<rect x="448" y="255" width="1" height="37" fill="#000"/>
<rect x="446" y="259" width="5" height="18" fill="#000"/>
<rect x="447" y="260" width="3" height="16" fill="#fff"/>
<rect x="456" y="258" width="1" height="28" fill="#000"/>
<rect x="454" y="258" width="5" height="20" fill="#000"/>
<rect x="464" y="265" width="1" height="28" fill="#000"/>
<rect x="462" y="277" width="5" height="14" fill="#000"/>
<rect x="472" y="287" width="1" height="20" fill="#000"/>
<rect x="470" y="290" width="5" height="13" fill="#000"/>
<rect x="480" y="262" width="1" height="47" fill="#000"/>
<rect x="478" y="264" width="5" height="38" fill="#000"/>
<rect x="479" y="265" width="3" height="36" fill="#fff"/>
<rect x="488" y="251" width="1" height="39" fill="#000"/>
<rect x="486" y="264" width="5" height="16" fill="#000"/>
<rect x="496" y="257" width="1" height="48" fill="#000"/>
<rect x="494" y="279" width="5" height="15" fill="#000"/>
<rect x="504" y="286" width="1" height="44" fill="#000"/>
<rect x="502" y="293" width="5" height="36" fill="#000"/>
<rect x="512" y="303" width="1" height="28" fill="#000"/>
<rect x="510" y="304" width="5" height="23" fill="#000"/>
<rect x="511" y="305" width="3" height="21" fill="#fff"/>
<rect x="520" y="293" width="1" height="15" fill="#000"/>
<rect x="518" y="304" width="5" height="1" fill="#000"/>
<rect x="528" y="298" width="1" height="22" fill="#000"/>
<rect x="526" y="303" width="5" height="2" fill="#000"/>
<rect x="536" y="262" width="1" height="49" fill="#000"/>
<rect x="534" y="264" width="5" height="40" fill="#000"/>
<rect x="535" y="265" width="3" height="38" fill="#fff"/>
<rect x="544" y="258" width="1" height="50" fill="#000"/>
<rect x="542" y="264" width="5" height="41" fill="#000"/>
<rect x="552" y="300" width="1" height="93" fill="#000"/>
<rect x="550" y="304" width="5" height="65" fill="#000"/>
<rect x="560" y="365" width="1" height="37" fill="#000"/>
<rect x="558" y="367" width="5" height="16" fill="#000"/>
<rect x="568" y="353" width="1" height="30" fill="#000"/>
<rect x="566" y="359" width="5" height="24" fill="#000"/>
<rect x="567" y="360" width="3" height="22" fill="#fff"/>
<rect x="576" y="353" width="1" height="24" fill="#000"/>
<rect x="574" y="359" width="5" height="11" fill="#000"/>
<rect x="584" y="347" width="1" height="57" fill="#000"/>
<rect x="582" y="356" width="5" height="15" fill="#000"/>
<rect x="583" y="357" width="3" height="13" fill="#fff"/>
<rect x="592" y="340" width="1" height="79" fill="#000"/>
<rect x="590" y="356" width="5" height="63" fill="#000"/>
<rect x="600" y="404" width="1" height="30" fill="#000"/>
<rect x="598" y="417" width="5" height="16" fill="#000"/>
<rect x="608" y="407" width="1" height="23" fill="#000"/>
<rect x="606" y="407" width="5" height="23" fill="#000"/>
<rect x="607" y="408" width="3" height="21" fill="#fff"/>
<rect x="616" y="392" width="1" height="24" fill="#000"/>
<rect x="614" y="396" width="5" height="12" fill="#000"/>
<rect x="615" y="397" width="3" height="10" fill="#fff"/>
<rect x="624" y="392" width="1" height="20" fill="#000"/>
<rect x="622" y="396" width="5" height="13" fill="#000"/>
<rect x="632" y="396" width="1" height="55" fill="#000"/>
<rect x="630" y="408" width="5" height="25" fill="#000"/>
<rect x="640" y="430" width="1" height="113" fill="#000"/>
<rect x="638" y="432" width="5" height="77" fill="#000"/>
<rect x="648" y="481" width="1" height="102" fill="#000"/>
<rect x="646" y="505" width="5" height="6" fill="#000"/>
<rect x="647" y="506" width="3" height="4" fill="#fff"/>
<rect x="656" y="400" width="1" height="109" fill="#000"/>
<rect x="654" y="412" width="5" height="95" fill="#000"/>
<rect x="655" y="413" width="3" height="93" fill="#fff"/>
<rect x="664" y="409" width="1" height="47" fill="#000"/>
<rect x="662" y="411" width="5" height="43" fill="#000"/>
<rect x="672" y="440" width="1" height="30" fill="#000"/>
<rect x="670" y="445" width="5" height="9" fill="#000"/>
<rect x="671" y="446" width="3" height="7" fill="#fff"/>
<rect x="680" y="414" width="1" height="54" fill="#000"/>
<rect x="678" y="445" width="5" height="6" fill="#000"/>
<rect x="688" y="440" width="1" height="89" fill="#000"/>
<rect x="686" y="450" width="5" height="26" fill="#000"/>
<rect x="696" y="384" width="1" height="102" fill="#000"/>
<rect x="694" y="385" width="5" height="90" fill="#000"/>
<rect x="695" y="386" width="3" height="88" fill="#fff"/>
<rect x="704" y="384" width="1" height="81" fill="#000"/>
<rect x="702" y="385" width="5" height="34" fill="#000"/>
<rect x="712" y="410" width="1" height="28" fill="#000"/>
<rect x="710" y="413" width="5" height="5" fill="#000"/>
<rect x="711" y="414" width="3" height="3" fill="#fff"/>
<rect x="720" y="411" width="1" height="18" fill="#000"/>
<rect x="718" y="412" width="5" height="6" fill="#000"/>
<rect x="728" y="366" width="1" height="53" fill="#000"/>
<rect x="726" y="366" width="5" height="52" fill="#000"/>
<rect x="727" y="367" width="3" height="50" fill="#fff"/>
<rect x="736" y="353" width="1" height="61" fill="#000"/>
<rect x="734" y="366" width="5" height="31" fill="#000"/>
<rect x="744" y="353" width="1" height="88" fill="#000"/>
<rect x="742" y="396" width="5" height="26" fill="#000"/>
<rect x="752" y="422" width="1" height="62" fill="#000"/>
<rect x="750" y="423" width="5" height="1" fill="#000"/>
<rect x="760" y="422" width="1" height="92" fill="#000"/>
<rect x="758" y="423" width="5" height="84" fill="#000"/>
<rect x="768" y="471" width="1" height="39" fill="#000"/>
<rect x="766" y="479" width="5" height="29" fill="#000"/>
<rect x="767" y="480" width="3" height="27" fill="#fff"/>
<rect x="776" y="432" width="1" height="50" fill="#000"/>
<rect x="774" y="437" width="5" height="43" fill="#000"/>
<rect x="775" y="438" width="3" height="41" fill="#fff"/>
<rect x="784" y="358" width="1" height="105" fill="#000"/>
<rect x="782" y="372" width="5" height="65" fill="#000"/>
<rect x="783" y="373" width="3" height="63" fill="#fff"/>
<rect x="792" y="362" width="1" height="102" fill="#000"/>
<rect x="790" y="372" width="5" height="79" fill="#000"/>
<rect x="800" y="413" width="1" height="53" fill="#000"/>
<rect x="798" y="429" width="5" height="21" fill="#000"/>
<rect x="799" y="430" width="3" height="19" fill="#fff"/>
<rect x="808" y="408" width="1" height="35" fill="#000"/>
<rect x="806" y="423" width="5" height="8" fill="#000"/>
<rect x="807" y="424" width="3" height="6" fill="#fff"/>
<rect x="816" y="413" width="1" height="20" fill="#000"/>
<rect x="814" y="421" width="5" height="2" fill="#000"/>
<rect x="824" y="422" width="1" height="54" fill="#000"/>
<rect x="822" y="422" width="5" height="42" fill="#000"/>
<rect x="832" y="435" width="1" height="68" fill="#000"/>
<rect x="830" y="448" width="5" height="17" fill="#000"/>
<rect x="831" y="449" width="3" height="15" fill="#fff"/>
<rect x="840" y="408" width="1" height="53" fill="#000"/>
<rect x="838" y="415" width="5" height="33" fill="#000"/>
<rect x="839" y="416" width="3" height="31" fill="#fff"/>
<rect x="848" y="363" width="1" height="60" fill="#000"/>
<rect x="846" y="376" width="5" height="40" fill="#000"/>
<rect x="847" y="377" width="3" height="38" fill="#fff"/>
<rect x="856" y="364" width="1" height="22" fill="#000"/>
<rect x="854" y="369" width="5" height="9" fill="#000"/>
<rect x="864" y="355" width="1" height="29" fill="#000"/>
<rect x="862" y="356" width="5" height="23" fill="#000"/>
<rect x="863" y="357" width="3" height="21" fill="#fff"/>
<rect x="872" y="351" width="1" height="16" fill="#000"/>
<rect x="870" y="355" width="5" height="7" fill="#000"/>
<rect x="880" y="361" width="1" height="32" fill="#000"/>
<rect x="878" y="362" width="5" height="27" fill="#000"/>
<rect x="888" y="349" width="1" height="57" fill="#000"/>
<rect x="886" y="362" width="5" height="27" fill="#000"/>
<rect x="887" y="363" width="3" height="25" fill="#fff"/>
<rect x="896" y="327" width="1" height="51" fill="#000"/>
<rect x="894" y="329" width="5" height="34" fill="#000"/>
<rect x="895" y="330" width="3" height="32" fill="#fff"/>
<rect x="904" y="307" width="1" height="45" fill="#000"/>
<rect x="902" y="320" width="5" height="11" fill="#000"/>
<rect x="903" y="321" width="3" height="9" fill="#fff"/>
<rect x="912" y="316" width="1" height="18" fill="#000"/>
<rect x="910" y="319" width="5" height="1" fill="#000"/>
<rect x="920" y="309" width="1" height="16" fill="#000"/>
<rect x="918" y="314" width="5" height="7" fill="#000"/>
<rect x="919" y="315" width="3" height="5" fill="#fff"/>
<rect x="928" y="297" width="1" height="35" fill="#000"/>
<rect x="926" y="313" width="5" height="7" fill="#000"/>
<rect x="936" y="296" width="1" height="34" fill="#000"/>
<rect x="934" y="303" width="5" height="17" fill="#000"/>
<rect x="935" y="304" width="3" height="15" fill="#fff"/>
<rect x="944" y="297" width="1" height="22" fill="#000"/>
<rect x="942" y="298" width="5" height="6" fill="#000"/>
<rect x="943" y="299" width="3" height="4" fill="#fff"/>
<rect x="952" y="267" width="1" height="34" fill="#000"/>
<rect x="950" y="277" width="5" height="22" fill="#000"/>
<rect x="951" y="278" width="3" height="20" fill="#fff"/>
<rect x="960" y="271" width="1" height="7" fill="#000"/>
<rect x="958" y="274" width="5" height="4" fill="#000"/>
<rect x="959" y="275" width="3" height="2" fill="#fff"/>
<rect x="968" y="264" width="1" height="12" fill="#000"/>
<rect x="966" y="274" width="5" height="1" fill="#000"/>
<rect x="976" y="262" width="1" height="21" fill="#000"/>
<rect x="974" y="266" width="5" height="8" fill="#000"/>
<rect x="975" y="267" width="3" height="6" fill="#fff"/>
<rect x="984" y="258" width="1" height="30" fill="#000"/>
<rect x="982" y="266" width="5" height="5" fill="#000"/>
<rect x="992" y="239" width="1" height="44" fill="#000"/>
<rect x="990" y="244" width="5" height="27" fill="#000"/>
<rect x="991" y="245" width="3" height="25" fill="#fff"/>
<rect x="1000" y="229" width="1" height="23" fill="#000"/>
<rect x="998" y="243" width="5" height="5" fill="#000"/>
<rect x="1008" y="242" width="1" height="10" fill="#000"/>
<rect x="1006" y="243" width="5" height="5" fill="#000"/>
<rect x="1007" y="244" width="3" height="3" fill="#fff"/>
<rect x="1016" y="242" width="1" height="7" fill="#000"/>
<rect x="1014" y="244" width="5" height="1" fill="#000"/>
<rect x="1024" y="243" width="1" height="22" fill="#000"/>
<rect x="1022" y="244" width="5" height="14" fill="#000"/>
<rect x="1032" y="243" width="1" height="48" fill="#000"/>
<rect x="1030" y="257" width="5" height="17" fill="#000"/>
<rect x="1040" y="266" width="1" height="38" fill="#000"/>
<rect x="1038" y="273" width="5" height="25" fill="#000"/>
<rect x="1048" y="283" width="1" height="36" fill="#000"/>
<rect x="1046" y="287" width="5" height="11" fill="#000"/>
<rect x="1047" y="288" width="3" height="9" fill="#fff"/>
<rect x="1056" y="283" width="1" height="20" fill="#000"/>
<rect x="1054" y="288" width="5" height="5" fill="#000"/>
<rect x="1064" y="282" width="1" height="11" fill="#000"/>
<rect x="1062" y="289" width="5" height="4" fill="#000"/>
<rect x="1063" y="290" width="3" height="2" fill="#fff"/>
<rect x="1072" y="282" width="1" height="63" fill="#000"/>
<rect x="1070" y="289" width="5" height="53" fill="#000"/>
<rect x="1080" y="303" width="1" height="53" fill="#000"/>
<rect x="1078" y="340" width="5" height="11" fill="#000"/>
<rect x="1088" y="296" width="1" height="61" fill="#000"/>
<rect x="1086" y="297" width="5" height="54" fill="#000"/>
<rect x="1087" y="298" width="3" height="52" fill="#fff"/>
<rect x="1096" y="281" width="1" height="42" fill="#000"/>
<rect x="1094" y="297" width="5" height="21" fill="#000"/>
<rect x="1104" y="305" width="1" height="11" fill="#000"/>
<rect x="1102" y="308" width="5" height="1" fill="#000"/>
<rect x="1112" y="308" width="1" height="29" fill="#000"/>
<rect x="1110" y="309" width="5" height="16" fill="#000"/>
<rect x="1120" y="305" width="1" height="20" fill="#000"/>
<rect x="1118" y="313" width="5" height="12" fill="#000"/>
<rect x="1119" y="314" width="3" height="10" fill="#fff"/>
<rect x="1128" y="309" width="1" height="28" fill="#000"/>
<rect x="1126" y="312" width="5" height="11" fill="#000"/>
<rect x="1136" y="296" width="1" height="32" fill="#000"/>
<rect x="1134" y="304" width="5" height="18" fill="#000"/>
<rect x="1135" y="305" width="3" height="16" fill="#fff"/>
<rect x="1144" y="287" width="1" height="42" fill="#000"/>
<rect x="1142" y="289" width="5" height="17" fill="#000"/>
<rect x="1143" y="290" width="3" height="15" fill="#fff"/>
<rect x="1152" y="282" width="1" height="46" fill="#000"/>
<rect x="1150" y="290" width="5" height="18" fill="#000"/>
<rect x="1160" y="305" width="1" height="16" fill="#000"/>
<rect x="1158" y="307" width="5" height="7" fill="#000"/>
<rect x="1168" y="307" width="1" height="14" fill="#000"/>
<rect x="1166" y="313" width="5" height="4" fill="#000"/>
<rect x="1176" y="292" width="1" height="27" fill="#000"/>
<rect x="1174" y="313" width="5" height="4" fill="#000"/>
<rect x="1175" y="314" width="3" height="2" fill="#fff"/>
<rect x="1184" y="293" width="1" height="26" fill="#000"/>
<rect x="1182" y="296" width="5" height="18" fill="#000"/>
<rect x="1183" y="297" width="3" height="16" fill="#fff"/>
<rect x="1192" y="263" width="1" height="35" fill="#000"/>
<rect x="1190" y="282" width="5" height="15" fill="#000"/>
<rect x="1191" y="283" width="3" height="13" fill="#fff"/>
<rect x="1200" y="251" width="1" height="37" fill="#000"/>
<rect x="1198" y="253" width="5" height="30" fill="#000"/>
<rect x="1199" y="254" width="3" height="28" fill="#fff"/>
<rect x="1208" y="248" width="1" height="12" fill="#000"/>
<rect x="1206" y="249" width="5" height="4" fill="#000"/>
<rect x="1207" y="250" width="3" height="2" fill="#fff"/>
<rect x="1216" y="240" width="1" height="16" fill="#000"/>
<rect x="1214" y="249" width="5" height="3" fill="#000"/>
<rect x="1224" y="233" width="1" height="22" fill="#000"/>
<rect x="1222" y="237" width="5" height="16" fill="#000"/>
<rect x="1223" y="238" width="3" height="14" fill="#fff"/>
<rect x="1232" y="215" width="1" height="23" fill="#000"/>
<rect x="1230" y="215" width="5" height="23" fill="#000"/>
<rect x="1231" y="216" width="3" height="21" fill="#fff"/>
<rect x="1240" y="214" width="1" height="20" fill="#000"/>
<rect x="1238" y="215" width="5" height="9" fill="#000"/>
<rect x="1248" y="207" width="1" height="26" fill="#000"/>
<rect x="1246" y="214" width="5" height="10" fill="#000"/>
<rect x="1247" y="215" width="3" height="8" fill="#fff"/>
<rect x="1256" y="211" width="1" height="18" fill="#000"/>
<rect x="1254" y="214" width="5" height="9" fill="#000"/>
<rect x="1264" y="213" width="1" height="12" fill="#000"/>
<rect x="1262" y="213" width="5" height="10" fill="#000"/>
<rect x="1263" y="214" width="3" height="8" fill="#fff"/>
<rect x="1272" y="209" width="1" height="15" fill="#000"/>
<rect x="1270" y="213" width="5" height="5" fill="#000"/>
<rect x="1280" y="207" width="1" height="56" fill="#000"/>
<rect x="1278" y="217" width="5" height="20" fill="#000"/>
<rect x="1288" y="223" width="1" height="73" fill="#000"/>
<rect x="1286" y="235" width="5" height="57" fill="#000"/>
<rect x="1296" y="277" width="1" height="35" fill="#000"/>
<rect x="1294" y="291" width="5" height="13" fill="#000"/>
<rect x="1304" y="303" width="1" height="15" fill="#000"/>
<rect x="1302" y="303" width="5" height="8" fill="#000"/>
<rect x="1312" y="306" width="1" height="25" fill="#000"/>
<rect x="1310" y="309" width="5" height="1" fill="#000"/>
<rect x="1320" y="297" width="1" height="22" fill="#000"/>
<rect x="1318" y="309" width="5" height="4" fill="#000"/>
<rect x="1328" y="265" width="1" height="48" fill="#000"/>
<rect x="1326" y="277" width="5" height="36" fill="#000"/>
<rect x="1327" y="278" width="3" height="34" fill="#fff"/>
<rect x="1336" y="269" width="1" height="95" fill="#000"/>
<rect x="1334" y="278" width="5" height="78" fill="#000"/>
<rect x="1344" y="338" width="1" height="41" fill="#000"/>
<rect x="1342" y="355" width="5" height="4" fill="#000"/>
<rect x="1352" y="349" width="1" height="16" fill="#000"/>
<rect x="1350" y="351" width="5" height="9" fill="#000"/>
<rect x="1351" y="352" width="3" height="7" fill="#fff"/>
<rect x="1360" y="345" width="1" height="21" fill="#000"/>
<rect x="1358" y="350" width="5" height="1" fill="#000"/>
<rect x="1368" y="344" width="1" height="22" fill="#000"/>
<rect x="1366" y="350" width="5" height="2" fill="#000"/>
<rect x="1376" y="352" width="1" height="62" fill="#000"/>
<rect x="1374" y="352" width="5" height="41" fill="#000"/>
<rect x="1384" y="348" width="1" height="64" fill="#000"/>
<rect x="1382" y="391" width="5" height="19" fill="#000"/>
<rect x="1392" y="361" width="1" height="60" fill="#000"/>
<rect x="1390" y="396" width="5" height="13" fill="#000"/>
<rect x="1391" y="397" width="3" height="11" fill="#fff"/>
<rect x="1400" y="372" width="1" height="35" fill="#000"/>
<rect x="1398" y="380" width="5" height="17" fill="#000"/>
<rect x="1399" y="381" width="3" height="15" fill="#fff"/>
<rect x="1408" y="379" width="1" height="2" fill="#000"/>
<rect x="1406" y="379" width="5" height="2" fill="#000"/>
</g>
<rect x="1305" y="364" width="169" height="7" fill="#00ee00" shape-rendering="crispEdges"/>
<g shape-rendering="crispEdges">
<rect x="0" y="642" width="1" height="21" fill="#c0c0c0"/>
<rect x="8" y="647" width="1" height="16" fill="#c0c0c0"/>
<rect x="16" y="654" width="1" height="9" fill="#c0c0c0"/>
<rect x="24" y="658" width="1" height="5" fill="#c0c0c0"/>
<rect x="32" y="660" width="1" height="3" fill="#c0c0c0"/>
<rect x="40" y="662" width="1" height="1" fill="#c0c0c0"/>
<rect x="48" y="662" width="1" height="5" fill="#c0c0c0"/>
<rect x="56" y="662" width="1" height="8" fill="#c0c0c0"/>
<rect x="64" y="662" width="1" height="10" fill="#c0c0c0"/>
<rect x="72" y="662" width="1" height="11" fill="#c0c0c0"/>
<rect x="80" y="662" width="1" height="13" fill="#c0c0c0"/>
<rect x="88" y="662" width="1" height="16" fill="#c0c0c0"/>
<rect x="96" y="662" width="1" height="13" fill="#c0c0c0"/>
<rect x="104" y="662" width="1" height="16" fill="#c0c0c0"/>
<rect x="112" y="662" width="1" height="18" fill="#c0c0c0"/>
<rect x="120" y="662" width="1" height="17" fill="#c0c0c0"/>
<rect x="128" y="662" width="1" height="17" fill="#c0c0c0"/>
<rect x="136" y="662" width="1" height="17" fill="#c0c0c0"/>
<rect x="144" y="662" width="1" height="25" fill="#c0c0c0"/>
<rect x="152" y="662" width="1" height="27" fill="#c0c0c0"/>
<rect x="160" y="662" width="1" height="26" fill="#c0c0c0"/>
<rect x="168" y="662" width="1" height="24" fill="#c0c0c0"/>
<rect x="176" y="662" width="1" height="24" fill="#c0c0c0"/>
<rect x="184" y="662" width="1" height="23" fill="#c0c0c0"/>
<rect x="192" y="662" width="1" height="25" fill="#c0c0c0"/>
<rect x="200" y="662" width="1" height="21" fill="#c0c0c0"/>
<rect x="208" y="662" width="1" height="17" fill="#c0c0c0"/>
<rect x="216" y="662" width="1" height="13" fill="#c0c0c0"/>
<rect x="224" y="662" width="1" height="10" fill="#c0c0c0"/>
<rect x="232" y="662" width="1" height="7" fill="#c0c0c0"/>
<rect x="240" y="662" width="1" height="5" fill="#c0c0c0"/>
<rect x="248" y="662" width="1" height="4" fill="#c0c0c0"/>
<rect x="256" y="662" width="1" height="3" fill="#c0c0c0"/>
<rect x="264" y="662" width="1" height="2" fill="#c0c0c0"/>
<rect x="272" y="662" width="1" height="2" fill="#c0c0c0"/>
<rect x="280" y="662" width="1" height="1" fill="#c0c0c0"/>
<rect x="288" y="662" width="1" height="1" fill="#c0c0c0"/>
<rect x="296" y="661" width="1" height="2" fill="#c0c0c0"/>
<rect x="304" y="662" width="1" height="1" fill="#c0c0c0"/>
<rect x="312" y="662" width="1" height="2" fill="#c0c0c0"/>
<rect x="320" y="662" width="1" height="3" fill="#c0c0c0"/>
<rect x="328" y="662" width="1" height="5" fill="#c0c0c0"/>
<rect x="336" y="662" width="1" height="10" fill="#c0c0c0"/>
<rect x="344" y="662" width="1" height="15" fill="#c0c0c0"/>
<rect x="352" y="662" width="1" height="17" fill="#c0c0c0"/>
<rect x="360" y="662" width="1" height="18" fill="#c0c0c0"/>
<rect x="368" y="662" width="1" height="18" fill="#c0c0c0"/>
<rect x="376" y="662" width="1" height="18" fill="#c0c0c0"/>
<rect x="384" y="662" width="1" height="17" fill="#c0c0c0"/>
<rect x="392" y="662" width="1" height="17" fill="#c0c0c0"/>
<rect x="400" y="662" width="1" height="17" fill="#c0c0c0"/>
<rect x="408" y="662" width="1" height="17" fill="#c0c0c0"/>
<rect x="416" y="662" width="1" height="18" fill="#c0c0c0"/>
<rect x="424" y="662" width="1" height="19" fill="#c0c0c0"/>
<rect x="432" y="662" width="1" height="21" fill="#c0c0c0"/>
<rect x="440" y="662" width="1" height="28" fill="#c0c0c0"/>
<rect x="448" y="662" width="1" height="32" fill="#c0c0c0"/>
<rect x="456" y="662" width="1" height="36" fill="#c0c0c0"/>
<rect x="464" y="662" width="1" height="40" fill="#c0c0c0"/>
<rect x="472" y="662" width="1" height="45" fill="#c0c0c0"/>
<rect x="480" y="662" width="1" height="43" fill="#c0c0c0"/>
<rect x="488" y="662" width="1" height="43" fill="#c0c0c0"/>
<rect x="496" y="662" width="1" height="45" fill="#c0c0c0"/>
<rect x="504" y="662" width="1" height="49" fill="#c0c0c0"/>
<rect x="512" y="662" width="1" height="48" fill="#c0c0c0"/>
<rect x="520" y="662" width="1" height="49" fill="#c0c0c0"/>
<rect x="528" y="662" width="1" height="45" fill="#c0c0c0"/>
<rect x="536" y="662" width="1" height="42" fill="#c0c0c0"/>
<rect x="544" y="662" width="1" height="42" fill="#c0c0c0"/>
<rect x="552" y="662" width="1" height="47" fill="#c0c0c0"/>
<rect x="560" y="662" width="1" height="55" fill="#c0c0c0"/>
<rect x="568" y="662" width="1" height="56" fill="#c0c0c0"/>
<rect x="576" y="662" width="1" height="58" fill="#c0c0c0"/>
<rect x="584" y="662" width="1" height="57" fill="#c0c0c0"/>
<rect x="592" y="662" width="1" height="63" fill="#c0c0c0"/>
<rect x="600" y="662" width="1" height="69" fill="#c0c0c0"/>
<rect x="608" y="662" width="1" height="70" fill="#c0c0c0"/>
<rect x="616" y="662" width="1" height="68" fill="#c0c0c0"/>
<rect x="624" y="662" width="1" height="68" fill="#c0c0c0"/>
<rect x="632" y="662" width="1" height="69" fill="#c0c0c0"/>
<rect x="640" y="662" width="1" height="79" fill="#c0c0c0"/>
<rect x="648" y="662" width="1" height="84" fill="#c0c0c0"/>
<rect x="656" y="662" width="1" height="77" fill="#c0c0c0"/>
<rect x="664" y="662" width="1" height="76" fill="#c0c0c0"/>
<rect x="672" y="662" width="1" height="73" fill="#c0c0c0"/>
<rect x="680" y="662" width="1" height="71" fill="#c0c0c0"/>
<rect x="688" y="662" width="1" height="70" fill="#c0c0c0"/>
<rect x="696" y="662" width="1" height="59" fill="#c0c0c0"/>
<rect x="704" y="662" width="1" height="53" fill="#c0c0c0"/>
<rect x="712" y="662" width="1" height="48" fill="#c0c0c0"/>
<rect x="720" y="662" width="1" height="43" fill="#c0c0c0"/>
<rect x="728" y="662" width="1" height="33" fill="#c0c0c0"/>
<rect x="736" y="662" width="1" height="29" fill="#c0c0c0"/>
<rect x="744" y="662" width="1" height="28" fill="#c0c0c0"/>
<rect x="752" y="662" width="1" height="27" fill="#c0c0c0"/>
<rect x="760" y="662" width="1" height="35" fill="#c0c0c0"/>
<rect x="768" y="662" width="1" height="37" fill="#c0c0c0"/>
<rect x="776" y="662" width="1" height="35" fill="#c0c0c0"/>
<rect x="784" y="662" width="1" height="27" fill="#c0c0c0"/>
<rect x="792" y="662" width="1" height="27" fill="#c0c0c0"/>
<rect x="800" y="662" width="1" height="24" fill="#c0c0c0"/>
<rect x="808" y="662" width="1" height="23" fill="#c0c0c0"/>
<rect x="816" y="662" width="1" height="19" fill="#c0c0c0"/>
<rect x="824" y="662" width="1" height="23" fill="#c0c0c0"/>
<rect x="832" y="662" width="1" height="23" fill="#c0c0c0"/>
<rect x="840" y="662" width="1" height="18" fill="#c0c0c0"/>
<rect x="848" y="662" width="1" height="10" fill="#c0c0c0"/>
<rect x="856" y="662" width="1" height="4" fill="#c0c0c0"/>
<rect x="864" y="660" width="1" height="3" fill="#c0c0c0"/>
<rect x="872" y="655" width="1" height="8" fill="#c0c0c0"/>
<rect x="880" y="654" width="1" height="9" fill="#c0c0c0"/>
<rect x="888" y="651" width="1" height="12" fill="#c0c0c0"/>
<rect x="896" y="644" width="1" height="19" fill="#c0c0c0"/>
<rect x="904" y="638" width="1" height="25" fill="#c0c0c0"/>
<rect x="912" y="634" width="1" height="29" fill="#c0c0c0"/>
<rect x="920" y="630" width="1" height="33" fill="#c0c0c0"/>
<rect x="928" y="628" width="1" height="35" fill="#c0c0c0"/>
<rect x="936" y="625" width="1" height="38" fill="#c0c0c0"/>
<rect x="944" y="623" width="1" height="40" fill="#c0c0c0"/>
<rect x="952" y="618" width="1" height="45" fill="#c0c0c0"/>
<rect x="960" y="616" width="1" height="47" fill="#c0c0c0"/>
<rect x="968" y="614" width="1" height="49" fill="#c0c0c0"/>
<rect x="976" y="612" width="1" height="51" fill="#c0c0c0"/>
<rect x="984" y="612" width="1" height="51" fill="#c0c0c0"/>
<rect x="992" y="609" width="1" height="54" fill="#c0c0c0"/>
<rect x="1000" y="608" width="1" height="55" fill="#c0c0c0"/>
<rect x="1008" y="608" width="1" height="55" fill="#c0c0c0"/>
<rect x="1016" y="608" width="1" height="55" fill="#c0c0c0"/>
<rect x="1024" y="610" width="1" height="53" fill="#c0c0c0"/>
<rect x="1032" y="614" width="1" height="49" fill="#c0c0c0"/>
<rect x="1040" y="621" width="1" height="42" fill="#c0c0c0"/>
<rect x="1048" y="626" width="1" height="37" fill="#c0c0c0"/>
<rect x="1056" y="630" width="1" height="33" fill="#c0c0c0"/>
<rect x="1064" y="634" width="1" height="29" fill="#c0c0c0"/>
<rect x="1072" y="643" width="1" height="20" fill="#c0c0c0"/>
<rect x="1080" y="651" width="1" height="12" fill="#c0c0c0"/>
<rect x="1088" y="652" width="1" height="11" fill="#c0c0c0"/>
<rect x="1096" y="655" width="1" height="8" fill="#c0c0c0"/>
<rect x="1104" y="657" width="1" height="6" fill="#c0c0c0"/>
<rect x="1112" y="660" width="1" height="3" fill="#c0c0c0"/>
<rect x="1120" y="661" width="1" height="2" fill="#c0c0c0"/>
<rect x="1128" y="662" width="1" height="1" fill="#c0c0c0"/>
<rect x="1136" y="662" width="1" height="1" fill="#c0c0c0"/>
<rect x="1144" y="660" width="1" height="3" fill="#c0c0c0"/>
<rect x="1152" y="659" width="1" height="4" fill="#c0c0c0"/>
<rect x="1160" y="661" width="1" height="2" fill="#c0c0c0"/>
<rect x="1168" y="662" width="1" height="1" fill="#c0c0c0"/>
<rect x="1176" y="662" width="1" height="1" fill="#c0c0c0"/>
<rect x="1184" y="660" width="1" height="3" fill="#c0c0c0"/>
<rect x="1192" y="658" width="1" height="5" fill="#c0c0c0"/>
<rect x="1200" y="653" width="1" height="10" fill="#c0c0c0"/>
<rect x="1208" y="649" width="1" height="14" fill="#c0c0c0"/>
<rect x="1216" y="646" width="1" height="17" fill="#c0c0c0"/>
<rect x="1224" y="642" width="1" height="21" fill="#c0c0c0"/>
<rect x="1232" y="636" width="1" height="27" fill="#c0c0c0"/>
<rect x="1240" y="633" width="1" height="30" fill="#c0c0c0"/>
<rect x="1248" y="629" width="1" height="34" fill="#c0c0c0"/>
<rect x="1256" y="628" width="1" height="35" fill="#c0c0c0"/>
<rect x="1264" y="627" width="1" height="36" fill="#c0c0c0"/>
<rect x="1272" y="627" width="1" height="36" fill="#c0c0c0"/>
<rect x="1280" y="630" width="1" height="33" fill="#c0c0c0"/>
<rect x="1288" y="638" width="1" height="25" fill="#c0c0c0"/>
<rect x="1296" y="647" width="1" height="16" fill="#c0c0c0"/>
<rect x="1304" y="655" width="1" height="8" fill="#c0c0c0"/>
<rect x="1312" y="660" width="1" height="3" fill="#c0c0c0"/>
<rect x="1320" y="662" width="1" height="2" fill="#c0c0c0"/>
<rect x="1328" y="662" width="1" height="2" fill="#c0c0c0"/>
<rect x="1336" y="662" width="1" height="11" fill="#c0c0c0"/>
<rect x="1344" y="662" width="1" height="18" fill="#c0c0c0"/>
<rect x="1352" y="662" width="1" height="23" fill="#c0c0c0"/>
<rect x="1360" y="662" width="1" height="26" fill="#c0c0c0"/>
<rect x="1368" y="662" width="1" height="29" fill="#c0c0c0"/>
<rect x="1376" y="662" width="1" height="35" fill="#c0c0c0"/>
<rect x="1384" y="662" width="1" height="42" fill="#c0c0c0"/>
<rect x="1392" y="662" width="1" height="45" fill="#c0c0c0"/>
<rect x="1400" y="662" width="1" height="45" fill="#c0c0c0"/>
<rect x="1408" y="662" width="1" height="42" fill="#c0c0c0"/>
</g>
<path d="M0 639.5h3M6 640.5h3M12 640.5h1M13 641.5h2M18 641.5h1M19 642.5h2M24 643.5h1M25 644.5h2M30 645.5h2M32 646.5h1M36 647.5h2M38 648.5h1M42 649.5h1M43 650.5h2M48 651.5h1M49 652.5h2M54 654.5h2M56 655.5h1M60 657.5h2M62 658.5h1M66 660.5h3M72 662.5h1M73 663.5h2M78 665.5h2M80 666.5h1M84 667.5h1M85 668.5h2M90 669.5h2M92 670.5h1M96 671.5h3M102 672.5h1M103 673.5h2M108 673.5h1M109 674.5h2M114 674.5h1M115 675.5h2M120 675.5h1M121 676.5h2M126 676.5h3M132 677.5h3M138 678.5h2M140 679.5h1M144 680.5h3M150 681.5h3M156 682.5h3M162 682.5h1M163 683.5h2M168 683.5h3M174 684.5h3M180 685.5h3M186 685.5h3M192 685.5h3M198 685.5h3M204 685.5h3M210 684.5h3M216 684.5h3M222 683.5h1M223 682.5h2M228 681.5h3M234 680.5h2M236 679.5h1M240 678.5h3M246 677.5h2M248 676.5h1M252 675.5h3M258 674.5h1M259 673.5h2M264 672.5h2M266 671.5h1M270 670.5h3M276 669.5h1M277 668.5h2M282 667.5h3M288 666.5h3M294 665.5h3M300 664.5h3M306 664.5h3M312 663.5h3M318 663.5h3M324 663.5h1M325 664.5h2M330 664.5h3M336 665.5h3M342 666.5h3M348 667.5h3M354 668.5h2M356 669.5h1M360 670.5h2M362 671.5h1M366 672.5h3M372 673.5h1M373 674.5h2M378 675.5h3M384 676.5h2M386 677.5h1M390 677.5h2M392 678.5h1M396 678.5h2M398 679.5h1M402 679.5h3M408 679.5h1M409 680.5h2M414 680.5h3M420 680.5h3M426 681.5h3M432 681.5h3M438 682.5h3M444 682.5h2M446 683.5h1M450 683.5h2M452 684.5h1M456 685.5h3M462 687.5h3M468 688.5h1M469 689.5h2M474 691.5h3M480 693.5h2M482 694.5h1M486 695.5h1M487 696.5h2M492 698.5h2M494 699.5h1M498 700.5h1M499 701.5h2M504 702.5h2M506 703.5h1M510 704.5h2M512 705.5h1M516 706.5h3M522 707.5h3M528 707.5h1M529 708.5h2M534 708.5h3M540 708.5h3M546 708.5h3M552 708.5h3M558 709.5h3M564 710.5h3M570 711.5h3M576 712.5h3M582 713.5h3M588 713.5h1M589 714.5h2M594 714.5h1M595 715.5h2M600 717.5h2M602 718.5h1M606 719.5h1M607 720.5h2M612 721.5h1M613 722.5h2M618 723.5h3M624 724.5h1M625 725.5h2M630 726.5h3M636 727.5h1M637 728.5h2M642 729.5h3M648 730.5h1M649 731.5h2M654 732.5h1M655 733.5h2M660 734.5h3M666 735.5h3M672 735.5h1M673 736.5h2M678 736.5h3M684 736.5h1M685 735.5h2M690 735.5h3M696 734.5h3M702 733.5h2M704 732.5h1M708 731.5h3M714 729.5h1M715 728.5h2M720 726.5h1M721 725.5h2M726 723.5h1M727 722.5h1M728 721.5h1M732 719.5h1M733 718.5h1M734 717.5h1M738 714.5h2M740 713.5h1M744 710.5h2M746 709.5h1M750 707.5h2M752 706.5h1M756 704.5h2M758 703.5h1M762 701.5h3M768 700.5h1M769 699.5h2M774 698.5h2M776 697.5h1M780 696.5h3M786 695.5h1M787 694.5h2M792 693.5h3M798 692.5h3M804 692.5h2M806 691.5h1M810 691.5h3M816 691.5h3M822 690.5h3M828 690.5h1M829 689.5h2M834 687.5h3M840 685.5h2M842 684.5h1M846 683.5h3M852 681.5h3M858 680.5h1M859 679.5h2M864 677.5h3M870 675.5h1M871 674.5h2M876 672.5h2M878 671.5h1M882 669.5h2M884 668.5h1M888 666.5h2M890 665.5h1M894 663.5h2M896 662.5h1M900 660.5h1M901 659.5h2M906 656.5h2M908 655.5h1M912 653.5h1M913 652.5h2M918 650.5h1M919 649.5h2M924 647.5h1M925 646.5h2M930 643.5h2M932 642.5h1M936 640.5h2M938 639.5h1M942 637.5h2M944 636.5h1M948 634.5h2M950 633.5h1M954 631.5h2M956 630.5h1M960 628.5h2M962 627.5h1M966 626.5h1M967 625.5h2M972 623.5h2M974 622.5h1M978 621.5h1M979 620.5h2M984 619.5h3M990 618.5h1M991 617.5h2M996 616.5h3M1002 614.5h3M1008 613.5h1M1009 612.5h2M1014 612.5h1M1015 611.5h2M1020 611.5h3M1026 610.5h3M1032 610.5h3M1038 611.5h3M1044 611.5h1M1045 612.5h2M1050 613.5h2M1052 614.5h1M1056 615.5h3M1062 617.5h3M1068 619.5h2M1070 620.5h1M1074 621.5h2M1076 622.5h1M1080 624.5h1M1081 625.5h2M1086 628.5h1M1087 629.5h1M1088 630.5h1M1092 632.5h1M1093 633.5h1M1094 634.5h1M1098 636.5h2M1100 637.5h1M1104 639.5h2M1106 640.5h1M1110 642.5h1M1111 643.5h2M1116 646.5h2M1118 647.5h1M1122 649.5h2M1124 650.5h1M1128 652.5h2M1130 653.5h1M1134 655.5h2M1136 656.5h1M1140 656.5h1M1141 657.5h2M1146 657.5h3M1152 658.5h3M1158 659.5h3M1164 659.5h2M1166 660.5h1M1170 660.5h3M1176 660.5h3M1182 661.5h3M1188 661.5h2M1190 660.5h1M1194 660.5h1M1195 659.5h2M1200 659.5h1M1201 658.5h2M1206 658.5h2M1208 657.5h1M1212 657.5h3M1218 656.5h3M1224 655.5h1M1225 654.5h2M1230 652.5h3M1236 650.5h2M1238 649.5h1M1242 647.5h2M1244 646.5h1M1248 644.5h2M1250 643.5h1M1254 642.5h1M1255 641.5h2M1260 639.5h2M1262 638.5h1M1266 637.5h1M1267 636.5h2M1272 635.5h1M1273 634.5h2M1278 633.5h3M1284 632.5h1M1285 631.5h2M1290 631.5h1M1291 632.5h2M1296 632.5h3M1302 633.5h3M1308 635.5h2M1310 636.5h1M1314 638.5h3M1320 640.5h1M1321 641.5h2M1326 644.5h1M1327 645.5h2M1332 648.5h2M1334 649.5h1M1338 652.5h1M1339 653.5h2M1344 656.5h1M1345 657.5h1M1346 658.5h1M1350 661.5h1M1351 662.5h2M1356 666.5h1M1357 667.5h2M1362 670.5h1M1363 671.5h1M1364 672.5h1M1368 674.5h1M1369 675.5h1M1370 676.5h1M1374 678.5h1M1375 679.5h2M1380 681.5h1M1381 682.5h2M1386 685.5h2M1388 686.5h1M1392 688.5h2M1394 689.5h1M1398 691.5h2M1400 692.5h1M1404 694.5h1M1405 695.5h2" fill="none" stroke="#ff0000" stroke-width="1" shape-rendering="crispEdges"/>
<g shape-rendering="crispEdges">
<line x1="0" y1="792.5" x2="1651" y2="792.5" stroke="#c0c0c0" stroke-width="1" stroke-dasharray="3,3"/>
<line x1="0" y1="843.5" x2="1651" y2="843.5" stroke="#c0c0c0" stroke-width="1" stroke-dasharray="3,3"/>
<line x1="0" y1="904.5" x2="1651" y2="904.5" stroke="#c0c0c0" stroke-width="1" stroke-dasharray="3,3"/>
</g>
<path d="M0 841.5h1M1.5 842v2M2 844.5h1M3 845.5h1M4.5 846v2M5 848.5h1M6 849.5h1M7.5 850v2M8 852.5h1M9.5 853v2M10 855.5h1M11.5 856v2M12 858.5h1M13.5 859v2M14 861.5h1M15.5 862v2M16 864.5h1M17 863.5h1M18 862.5h1M19 861.5h1M20 860.5h1M21 859.5h1M22 858.5h1M23 857.5h1M24 856.5h1M25 855.5h1M26 854.5h1M27 853.5h1M28 852.5h2M30 851.5h1M31 850.5h1M32 849.5h1M33.5 850v2M34.5 852v2M35 854.5h1M36.5 855v2M37 857.5h1M38.5 858v2M39.5 860v2M40 862.5h1M41 861.5h2M43 860.5h1M44 859.5h2M46 858.5h2M48 857.5h4M52 858.5h21M73 859.5h2M75 860.5h1M76 861.5h2M78 862.5h2M80 863.5h1M81 864.5h2M83 865.5h1M84 866.5h2M86 867.5h2M88.5 867v2M89.5 865v2M90.5 863v2M91.5 861v2M92.5 859v2M93.5 857v2M94.5 855v2M95.5 853v2M96.5 851v2M97 852.5h1M98 853.5h1M99 854.5h1M100 855.5h1M101 856.5h1M102 857.5h1M103 858.5h1M104 859.5h1M105 860.5h2M107 861.5h2M109 862.5h2M111 863.5h2M113 862.5h2M115 861.5h2M117 860.5h2M119 859.5h2M121 858.5h1M122 857.5h1M123 856.5h1M124 855.5h1M125 854.5h1M126 853.5h1M127 852.5h1M128 851.5h2M130 852.5h2M132 853.5h3M135 854.5h2M136 855.5h1M137.5 856v3M138.5 859v3M139.5 862v3M140.5 865v4M141.5 869v3M142.5 872v3M143.5 875v3M144.5 878v2M144 878.5h1M145.5 876v2M146.5 874v2M147.5 872v2M148.5 869v3M149.5 867v2M150.5 865v2M151.5 863v2M152.5 861v2M153 860.5h1M154 859.5h2M156 858.5h1M157 857.5h1M158 856.5h2M160 855.5h4M164 854.5h13M177 853.5h2M179 852.5h2M181 851.5h2M183 850.5h2M185.5 851v2M186.5 853v2M187 855.5h1M188.5 856v2M189 858.5h1M190.5 859v2M191.5 861v2M192.5 862v2M193.5 860v2M194.5 857v3M195.5 855v2M196.5 852v3M197.5 850v2M198.5 847v3M199.5 845v2M200.5 843v2M201 843.5h3M204 842.5h8M212 841.5h6M218 840.5h4M222 839.5h6M228 840.5h8M236 839.5h5M241 840.5h2M243 841.5h2M245 842.5h2M247 843.5h2M249 842.5h2M251 841.5h2M253 840.5h2M255 839.5h2M257 840.5h2M259 841.5h1M260 842.5h2M262 843.5h2M264 844.5h2M266 845.5h2M268 846.5h3M271 847.5h2M273 846.5h1M274 845.5h1M275 844.5h1M276 843.5h1M277 842.5h1M278 841.5h1M279 840.5h1M280 839.5h1M281 838.5h1M282 837.5h1M283 836.5h1M284 835.5h2M286 834.5h1M287 833.5h1M288 832.5h1M289 833.5h1M290.5 834v2M291 836.5h1M292 837.5h1M293 838.5h1M294.5 839v2M295 841.5h1M296 842.5h1M297 843.5h1M298 844.5h1M299 845.5h1M300.5 846v2M301 848.5h1M302 849.5h1M303 850.5h1M304 851.5h2M306 852.5h2M308 853.5h3M311 854.5h2M313 853.5h2M315 852.5h2M317 851.5h2M319 850.5h3M322 851.5h4M326 852.5h3M329.5 853v2M330.5 855v2M331.5 857v2M332.5 859v2M333.5 861v2M334.5 863v2M335.5 865v2M336 867.5h1M337 868.5h2M339 869.5h2M341 870.5h2M343 871.5h2M345.5 869v2M346.5 867v2M347.5 865v2M348 864.5h1M349.5 862v2M350.5 860v2M351.5 858v2M352 857.5h4M356 858.5h6M362 859.5h2M364 860.5h3M367 861.5h2M369 860.5h2M371 859.5h2M373 858.5h2M375 857.5h2M377 856.5h2M379 855.5h2M381 854.5h2M383 853.5h5M388 854.5h8M396 855.5h13M409 856.5h2M411 857.5h1M412 858.5h2M414 859.5h2M416 860.5h2M418 861.5h2M420 862.5h3M423 863.5h2M425 864.5h1M426.5 865v2M427 867.5h1M428 868.5h1M429 869.5h1M430.5 870v2M431 872.5h1M432 873.5h1M433.5 874v2M434.5 876v2M435.5 878v2M436 880.5h1M437.5 881v2M438.5 883v2M439.5 885v2M440 887.5h1M441.5 885v2M442 884.5h1M443 883.5h1M444.5 881v2M445 880.5h1M446 879.5h1M447.5 877v2M448 876.5h1M449 877.5h2M451 878.5h2M453 879.5h2M455 880.5h2M457 881.5h2M459 882.5h2M461 883.5h2M463 884.5h3M466 885.5h2M468 886.5h3M471 887.5h2M472 886.5h1M473.5 883v3M474.5 880v3M475.5 877v3M476.5 874v3M477.5 871v3M478.5 868v3M479.5 865v3M480.5 863v2M481 864.5h2M483 865.5h1M484 866.5h2M486 867.5h2M488 868.5h1M489 869.5h2M491 870.5h2M493 871.5h2M495 872.5h2M497 873.5h1M498 874.5h1M499 875.5h1M500.5 876v2M501 878.5h1M502 879.5h1M503 880.5h1M504 881.5h1M505.5 879v2M506.5 877v2M507 876.5h1M508.5 874v2M509 873.5h1M510.5 871v2M511.5 869v2M512 868.5h17M528 867.5h1M529.5 865v2M530.5 863v2M531.5 860v3M532.5 858v2M533.5 855v3M534.5 853v2M535.5 851v2M536.5 849v2M537.5 850v2M538.5 852v2M539 854.5h1M540.5 855v2M541 857.5h1M542.5 858v2M543.5 860v2M544 862.5h1M545.5 863v2M546.5 865v2M547.5 867v2M548 869.5h1M549.5 870v2M550.5 872v2M551.5 874v2M552 876.5h2M554 877.5h2M556 878.5h3M559 879.5h2M561 878.5h1M562.5 876v2M563 875.5h1M564 874.5h1M565 873.5h1M566.5 871v2M567 870.5h1M568 869.5h2M570 870.5h2M572 871.5h3M575 872.5h2M577 871.5h2M579 870.5h1M580 869.5h2M582 868.5h2M584 867.5h1M585.5 868v2M586 870.5h1M587 871.5h1M588.5 872v2M589 874.5h1M590 875.5h1M591.5 876v2M592 878.5h2M594 879.5h2M596 880.5h3M599 881.5h2M601 880.5h1M602.5 878v2M603 877.5h1M604 876.5h1M605 875.5h1M606.5 873v2M607 872.5h1M608 871.5h1M609 870.5h2M611 869.5h2M613 868.5h2M615 867.5h3M618 868.5h4M622 869.5h3M625 870.5h2M627 871.5h2M629 872.5h2M631 873.5h2M633.5 874v2M634.5 876v2M635 878.5h1M636.5 879v2M637 881.5h1M638.5 882v2M639.5 884v2M640 886.5h4M644 885.5h5M648 884.5h1M649.5 880v4M650.5 876v4M651.5 872v4M652.5 869v3M653.5 865v4M654.5 861v4M655.5 857v4M656.5 855v2M657 856.5h1M658 857.5h1M659 858.5h1M660 859.5h1M661 860.5h1M662 861.5h1M663 862.5h1M664 863.5h2M666 862.5h2M668 861.5h3M671 860.5h3M674 861.5h4M678 862.5h3M681 863.5h2M683 864.5h2M685 865.5h2M687 866.5h2M688 865.5h1M689.5 862v3M690.5 860v2M691.5 857v3M692.5 854v3M693.5 851v3M694.5 849v2M695.5 846v3M696.5 844v2M697 845.5h1M698 846.5h1M699 847.5h1M700 848.5h2M702 849.5h1M703 850.5h1M704 851.5h2M706 850.5h4M710 849.5h6M716 850.5h5M721.5 848v2M722 847.5h1M723.5 845v2M724 844.5h1M725.5 842v2M726 841.5h1M727.5 839v2M728 838.5h1M729 839.5h1M730 840.5h1M731 841.5h1M732 842.5h2M734 843.5h1M735 844.5h1M736 845.5h1M737 846.5h2M739 847.5h1M740 848.5h2M742 849.5h2M744 850.5h9M753.5 851v2M754.5 853v2M755.5 855v2M756.5 857v2M757.5 859v2M758.5 861v2M759.5 863v2M760.5 865v2M761 865.5h1M762 864.5h1M763 863.5h1M764 862.5h2M766 861.5h1M767 860.5h1M768 859.5h1M769 858.5h1M770.5 856v2M771 855.5h1M772 854.5h1M773 853.5h1M774.5 851v2M775 850.5h1M776 849.5h1M777.5 847v2M778.5 845v2M779 844.5h1M780.5 842v2M781 841.5h1M782.5 839v2M783.5 837v2M784 836.5h1M785.5 837v2M786.5 839v2M787.5 841v2M788.5 843v2M789.5 845v2M790.5 847v2M791.5 849v2M792 851.5h1M793 850.5h2M795 849.5h2M797 848.5h2M799 847.5h3M802 846.5h4M806 845.5h11M817 846.5h1M818 847.5h1M819 848.5h1M820 849.5h1M821 850.5h1M822 851.5h1M823 852.5h1M824 853.5h2M826 852.5h4M830 851.5h3M833 850.5h1M834 849.5h1M835 848.5h1M836 847.5h2M838 846.5h1M839 845.5h1M840 844.5h1M841 843.5h1M842 842.5h1M843 841.5h1M844.5 839v2M845 838.5h1M846 837.5h1M847 836.5h1M848 835.5h9M857 834.5h2M859 833.5h2M861 832.5h2M863 831.5h3M866 832.5h4M870 833.5h3M873 834.5h1M874 835.5h2M876 836.5h1M877 837.5h1M878 838.5h2M880 839.5h1M881 838.5h2M883 837.5h1M884 836.5h2M886 835.5h2M888 834.5h1M889 833.5h1M890 832.5h1M891 831.5h1M892 830.5h2M894 829.5h1M895 828.5h1M896 827.5h4M900 826.5h14M914 825.5h4M918 824.5h4M922 825.5h4M926 826.5h4M930 825.5h2M932 824.5h3M935 823.5h3M938 822.5h4M942 821.5h3M945 820.5h2M947 819.5h2M949 818.5h2M951 817.5h5M956 816.5h14M970 815.5h4M974 814.5h4M978 815.5h4M982 816.5h3M985 815.5h1M986 814.5h1M987 813.5h1M988 812.5h2M990 811.5h1M991 810.5h1M992 809.5h2M994 810.5h4M998 811.5h6M1004 810.5h8M1012 811.5h5M1017 812.5h1M1018 813.5h1M1019 814.5h1M1020 815.5h1M1021 816.5h1M1022 817.5h1M1023 818.5h1M1024 819.5h1M1025 820.5h1M1026 821.5h1M1027 822.5h1M1028.5 823v2M1029 825.5h1M1030 826.5h1M1031 827.5h1M1032 828.5h1M1033.5 829v2M1034 831.5h1M1035.5 832v2M1036 834.5h1M1037.5 835v2M1038 837.5h1M1039.5 838v2M1040 840.5h1M1041 839.5h2M1043 838.5h2M1045 837.5h2M1047 836.5h3M1050 837.5h4M1054 838.5h6M1060 837.5h5M1064 838.5h1M1065.5 839v3M1066.5 842v2M1067.5 844v3M1068.5 847v3M1069.5 850v3M1070.5 853v2M1071.5 855v3M1072.5 858v2M1073 859.5h1M1074 860.5h2M1076 861.5h3M1079 862.5h2M1080 861.5h1M1081.5 859v2M1082.5 856v3M1083.5 853v3M1084.5 851v2M1085.5 848v3M1086.5 845v3M1087.5 843v2M1088.5 841v2M1089 842.5h1M1090 843.5h2M1092 844.5h1M1093 845.5h1M1094 846.5h2M1096 847.5h2M1098 846.5h2M1100 845.5h3M1103 844.5h2M1105 845.5h2M1107 846.5h1M1108 847.5h2M1110 848.5h2M1112 849.5h1M1113 848.5h2M1115 847.5h2M1117 846.5h2M1119 845.5h3M1122 846.5h2M1124 847.5h3M1127 848.5h2M1129 847.5h1M1130 846.5h1M1131 845.5h1M1132 844.5h2M1134 843.5h1M1135 842.5h1M1136 841.5h1M1137 840.5h2M1139 839.5h2M1141 838.5h2M1143 837.5h2M1145 838.5h1M1146 839.5h2M1148 840.5h1M1149 841.5h1M1150 842.5h2M1152 843.5h2M1154 844.5h2M1156 845.5h3M1159 846.5h5M1164 847.5h8M1172 846.5h5M1177 845.5h1M1178 844.5h1M1179 843.5h1M1180 842.5h1M1181 841.5h1M1182 840.5h1M1183 839.5h1M1184 838.5h1M1185 837.5h1M1186 836.5h2M1188 835.5h1M1189 834.5h1M1190 833.5h2M1192 832.5h1M1193 831.5h1M1194 830.5h1M1195 829.5h1M1196.5 827v2M1197 826.5h1M1198 825.5h1M1199 824.5h1M1200 823.5h2M1202 822.5h4M1206 821.5h6M1212 822.5h5M1217 821.5h2M1219 820.5h2M1221 819.5h2M1223 818.5h2M1225 817.5h1M1226 816.5h1M1227 815.5h1M1228 814.5h1M1229 813.5h1M1230 812.5h1M1231 811.5h1M1232 810.5h1M1233 811.5h1M1234 812.5h1M1235 813.5h1M1236 814.5h2M1238 815.5h1M1239 816.5h1M1240 817.5h2M1242 816.5h2M1244 815.5h3M1247 814.5h2M1249 815.5h2M1251 816.5h2M1253 817.5h2M1255 818.5h3M1258 817.5h2M1260 816.5h3M1263 815.5h3M1266 816.5h2M1268 817.5h3M1271 818.5h2M1273.5 819v2M1274 821.5h1M1275 822.5h1M1276.5 823v2M1277 825.5h1M1278 826.5h1M1279.5 827v2M1280.5 829v2M1281.5 831v3M1282.5 834v3M1283.5 837v3M1284.5 840v4M1285.5 844v3M1286.5 847v3M1287.5 850v3M1288.5 853v2M1289 855.5h2M1291 856.5h2M1293 857.5h2M1295 858.5h3M1298 859.5h2M1300 860.5h3M1303 861.5h13M1316 862.5h5M1320 861.5h1M1321.5 859v2M1322.5 857v2M1323.5 855v2M1324.5 852v3M1325.5 850v2M1326.5 848v2M1327.5 846v2M1328.5 844v2M1328 845.5h1M1329.5 846v3M1330.5 849v3M1331.5 852v3M1332.5 855v4M1333.5 859v3M1334.5 862v3M1335.5 865v3M1336.5 868v2M1337 869.5h1M1338 870.5h4M1342 871.5h3M1345 870.5h2M1347 869.5h1M1348 868.5h2M1350 867.5h2M1352 866.5h17M1369.5 867v2M1370 869.5h1M1371 870.5h1M1372.5 871v2M1373 873.5h1M1374 874.5h1M1375.5 875v2M1376 877.5h1M1377 878.5h2M1379 879.5h2M1381 880.5h2M1383 881.5h2M1385 880.5h1M1386 879.5h1M1387 878.5h1M1388 877.5h2M1390 876.5h1M1391 875.5h1M1392 874.5h1M1393 873.5h1M1394 872.5h1M1395 871.5h1M1396 870.5h1M1397 869.5h1M1398 868.5h1M1399 867.5h1M1400 866.5h9" fill="none" stroke="#1e90ff" stroke-width="1" shape-rendering="crispEdges"/>
<line x1="1256" y1="217" x2="1390.1" y2="396.8" stroke="#ff0000" stroke-width="3.0" shape-rendering="crispEdges"/><polygon shape-rendering="crispEdges" points="1395.5,404.0 1384.9,398.2 1392.9,392.2" fill="#ff0000"/>
<line x1="1300.4" y1="649.4" x2="1410.9" y2="701.6" stroke="#ff0000" stroke-width="3.2" shape-rendering="crispEdges"/><polygon shape-rendering="crispEdges" points="1419.0,705.4 1407.1,704.8 1411.0,696.6" fill="#ff0000"/>
<line x1="1299.5" y1="848.3" x2="1406.7" y2="870.8" stroke="#ff0000" stroke-width="3.2" shape-rendering="crispEdges"/><polygon shape-rendering="crispEdges" points="1415.0,872.5 1403.8,874.8 1405.6,865.9" fill="#ff0000"/>
<g shape-rendering="crispEdges" fill="#000">
<rect x="0" y="29" width="1652" height="1"/>
<rect x="1651" y="29" width="1" height="902"/>
<rect x="0" y="596" width="1652" height="1"/>
<rect x="0" y="598" width="1652" height="1"/>
<rect x="0" y="754" width="1652" height="1"/>
<rect x="0" y="756" width="1652" height="1"/>
<rect x="0" y="930" width="1652" height="1"/>
<rect x="1651" y="597" width="1" height="1" fill="#fff"/>
<rect x="1651" y="755" width="1" height="1" fill="#fff"/>
<rect x="1652" y="32" width="2" height="1"/>
<rect x="1652" y="65" width="2" height="1"/>
<rect x="1652" y="98" width="2" height="1"/>
<rect x="1652" y="131" width="2" height="1"/>
<rect x="1652" y="164" width="2" height="1"/>
<rect x="1652" y="197" width="2" height="1"/>
<rect x="1652" y="230" width="2" height="1"/>
<rect x="1652" y="263" width="2" height="1"/>
<rect x="1652" y="296" width="2" height="1"/>
<rect x="1652" y="329" width="2" height="1"/>
<rect x="1652" y="362" width="2" height="1"/>
<rect x="1652" y="395" width="2" height="1"/>
<rect x="1652" y="428" width="2" height="1"/>
<rect x="1652" y="461" width="2" height="1"/>
<rect x="1652" y="494" width="2" height="1"/>
<rect x="1652" y="527" width="2" height="1"/>
<rect x="1652" y="560" width="2" height="1"/>
<rect x="1652" y="593" width="2" height="1"/>
<rect x="1652" y="600" width="2" height="1"/>
<rect x="1652" y="662" width="2" height="1"/>
<rect x="1652" y="753" width="2" height="1"/>
<rect x="1652" y="758" width="2" height="1"/>
<rect x="56" y="931" width="1" height="3"/>
<rect x="120" y="931" width="1" height="3"/>
<rect x="184" y="931" width="1" height="3"/>
<rect x="248" y="931" width="1" height="3"/>
<rect x="312" y="931" width="1" height="3"/>
<rect x="376" y="931" width="1" height="3"/>
<rect x="440" y="931" width="1" height="3"/>
<rect x="504" y="931" width="1" height="3"/>
<rect x="568" y="931" width="1" height="3"/>
<rect x="632" y="931" width="1" height="3"/>
<rect x="696" y="931" width="1" height="3"/>
<rect x="760" y="931" width="1" height="3"/>
<rect x="824" y="931" width="1" height="3"/>
<rect x="888" y="931" width="1" height="3"/>
<rect x="952" y="931" width="1" height="3"/>
<rect x="1016" y="931" width="1" height="3"/>
<rect x="1080" y="931" width="1" height="3"/>
<rect x="1144" y="931" width="1" height="3"/>
<rect x="1208" y="931" width="1" height="3"/>
<rect x="1272" y="931" width="1" height="3"/>
<rect x="1336" y="931" width="1" height="3"/>
<rect x="1400" y="931" width="1" height="3"/>
</g>
<g font-family="Liberation Sans, sans-serif">
<text x="1657" y="36" font-size="9.7" fill="#000" text-anchor="start" font-weight="normal" textLength="33" lengthAdjust="spacingAndGlyphs">37010.0</text>
<text x="1657" y="69" font-size="9.7" fill="#000" text-anchor="start" font-weight="normal" textLength="33" lengthAdjust="spacingAndGlyphs">36772.0</text>
<text x="1657" y="102" font-size="9.7" fill="#000" text-anchor="start" font-weight="normal" textLength="33" lengthAdjust="spacingAndGlyphs">36534.0</text>
<text x="1657" y="135" font-size="9.7" fill="#000" text-anchor="start" font-weight="normal" textLength="33" lengthAdjust="spacingAndGlyphs">36296.0</text>
<text x="1657" y="168" font-size="9.7" fill="#000" text-anchor="start" font-weight="normal" textLength="33" lengthAdjust="spacingAndGlyphs">36051.0</text>
<text x="1657" y="201" font-size="9.7" fill="#000" text-anchor="start" font-weight="normal" textLength="33" lengthAdjust="spacingAndGlyphs">35813.0</text>
<text x="1657" y="234" font-size="9.7" fill="#000" text-anchor="start" font-weight="normal" textLength="33" lengthAdjust="spacingAndGlyphs">35575.0</text>
<text x="1657" y="267" font-size="9.7" fill="#000" text-anchor="start" font-weight="normal" textLength="33" lengthAdjust="spacingAndGlyphs">35337.0</text>
<text x="1657" y="300" font-size="9.7" fill="#000" text-anchor="start" font-weight="normal" textLength="33" lengthAdjust="spacingAndGlyphs">35099.0</text>
<text x="1657" y="333" font-size="9.7" fill="#000" text-anchor="start" font-weight="normal" textLength="33" lengthAdjust="spacingAndGlyphs">34861.0</text>
<text x="1657" y="366" font-size="9.7" fill="#000" text-anchor="start" font-weight="normal" textLength="33" lengthAdjust="spacingAndGlyphs">34623.0</text>
<text x="1657" y="399" font-size="9.7" fill="#000" text-anchor="start" font-weight="normal" textLength="33" lengthAdjust="spacingAndGlyphs">34385.0</text>
<text x="1657" y="432" font-size="9.7" fill="#000" text-anchor="start" font-weight="normal" textLength="33" lengthAdjust="spacingAndGlyphs">34147.0</text>
<text x="1657" y="465" font-size="9.7" fill="#000" text-anchor="start" font-weight="normal" textLength="33" lengthAdjust="spacingAndGlyphs">33909.0</text>
<text x="1657" y="498" font-size="9.7" fill="#000" text-anchor="start" font-weight="normal" textLength="33" lengthAdjust="spacingAndGlyphs">33671.0</text>
<text x="1657" y="531" font-size="9.7" fill="#000" text-anchor="start" font-weight="normal" textLength="33" lengthAdjust="spacingAndGlyphs">33433.0</text>
<text x="1657" y="564" font-size="9.7" fill="#000" text-anchor="start" font-weight="normal" textLength="33" lengthAdjust="spacingAndGlyphs">33195.0</text>
<text x="1657" y="597" font-size="9.7" fill="#000" text-anchor="start" font-weight="normal" textLength="33" lengthAdjust="spacingAndGlyphs">32957.0</text>
<rect x="1653" y="301" width="41" height="11" fill="#ff0000" shape-rendering="crispEdges"/>
<text x="1657" y="310" font-size="9.7" fill="#fff" text-anchor="start" font-weight="normal" textLength="33" lengthAdjust="spacingAndGlyphs">35020.8</text>
<rect x="1646" y="305" width="5" height="5" fill="#ff0000" shape-rendering="crispEdges"/><rect x="1647" y="306" width="3" height="3" fill="#fff" shape-rendering="crispEdges"/>
<rect x="1653" y="331" width="41" height="11" fill="#ff0000" shape-rendering="crispEdges"/>
<text x="1657" y="340" font-size="9.7" fill="#fff" text-anchor="start" font-weight="normal" textLength="33" lengthAdjust="spacingAndGlyphs">34804.4</text>
<rect x="1646" y="335" width="5" height="5" fill="#ff0000" shape-rendering="crispEdges"/><rect x="1647" y="336" width="3" height="3" fill="#fff" shape-rendering="crispEdges"/>
<rect x="1653" y="361" width="41" height="11" fill="#32cd32" shape-rendering="crispEdges"/>
<text x="1657" y="370" font-size="9.7" fill="#fff" text-anchor="start" font-weight="normal" textLength="33" lengthAdjust="spacingAndGlyphs">34588.0</text>
<rect x="1646" y="365" width="5" height="5" fill="#32cd32" shape-rendering="crispEdges"/><rect x="1647" y="366" width="3" height="3" fill="#fff" shape-rendering="crispEdges"/>
<rect x="1653" y="374" width="41" height="11" fill="#000000" shape-rendering="crispEdges"/>
<text x="1657" y="383" font-size="9.7" fill="#fff" text-anchor="start" font-weight="normal" textLength="33" lengthAdjust="spacingAndGlyphs">34497.0</text>
<rect x="1653" y="397" width="41" height="11" fill="#0000ff" shape-rendering="crispEdges"/>
<text x="1657" y="406" font-size="9.7" fill="#fff" text-anchor="start" font-weight="normal" textLength="33" lengthAdjust="spacingAndGlyphs">34328.3</text>
<rect x="1646" y="401" width="5" height="5" fill="#0000ff" shape-rendering="crispEdges"/><rect x="1647" y="402" width="3" height="3" fill="#fff" shape-rendering="crispEdges"/>
<rect x="1653" y="428" width="41" height="11" fill="#0000ff" shape-rendering="crispEdges"/>
<text x="1657" y="437" font-size="9.7" fill="#fff" text-anchor="start" font-weight="normal" textLength="33" lengthAdjust="spacingAndGlyphs">34104.6</text>
<rect x="1646" y="432" width="5" height="5" fill="#0000ff" shape-rendering="crispEdges"/><rect x="1647" y="433" width="3" height="3" fill="#fff" shape-rendering="crispEdges"/>
<text x="1656" y="609" font-size="9.7" fill="#000" text-anchor="start" font-weight="normal" textLength="28" lengthAdjust="spacingAndGlyphs">312.26</text>
<text x="1656" y="666" font-size="9.7" fill="#000" text-anchor="start" font-weight="normal" textLength="19" lengthAdjust="spacingAndGlyphs">0.00</text>
<text x="1655" y="751" font-size="9.7" fill="#000" text-anchor="start" font-weight="normal" textLength="31" lengthAdjust="spacingAndGlyphs">-451.29</text>
<text x="1656" y="767" font-size="9.7" fill="#000" text-anchor="start" font-weight="normal" textLength="14" lengthAdjust="spacingAndGlyphs">100</text>
<text x="1656" y="796" font-size="9.7" fill="#000" text-anchor="start" font-weight="normal" textLength="10" lengthAdjust="spacingAndGlyphs">80</text>
<text x="1656" y="847" font-size="9.7" fill="#000" text-anchor="start" font-weight="normal" textLength="10" lengthAdjust="spacingAndGlyphs">50</text>
<text x="1656" y="908" font-size="9.7" fill="#000" text-anchor="start" font-weight="normal" textLength="10" lengthAdjust="spacingAndGlyphs">15</text>
<text x="1656" y="927" font-size="9.7" fill="#000" text-anchor="start" font-weight="normal" textLength="5" lengthAdjust="spacingAndGlyphs">0</text>
<text x="-9" y="943" font-size="9.7" fill="#000" text-anchor="start" font-weight="normal" textLength="45" lengthAdjust="spacingAndGlyphs">5 Jan 2022</text>
<text x="55" y="943" font-size="9.7" fill="#000" text-anchor="start" font-weight="normal" textLength="48" lengthAdjust="spacingAndGlyphs">6 Jan 20:00</text>
<text x="119" y="943" font-size="9.7" fill="#000" text-anchor="start" font-weight="normal" textLength="53" lengthAdjust="spacingAndGlyphs">10 Jan 00:00</text>
<text x="183" y="943" font-size="9.7" fill="#000" text-anchor="start" font-weight="normal" textLength="53" lengthAdjust="spacingAndGlyphs">11 Jan 08:00</text>
<text x="247" y="943" font-size="9.7" fill="#000" text-anchor="start" font-weight="normal" textLength="53" lengthAdjust="spacingAndGlyphs">12 Jan 16:00</text>
<text x="311" y="943" font-size="9.7" fill="#000" text-anchor="start" font-weight="normal" textLength="53" lengthAdjust="spacingAndGlyphs">14 Jan 00:00</text>
<text x="375" y="943" font-size="9.7" fill="#000" text-anchor="start" font-weight="normal" textLength="53" lengthAdjust="spacingAndGlyphs">17 Jan 04:00</text>
<text x="439" y="943" font-size="9.7" fill="#000" text-anchor="start" font-weight="normal" textLength="53" lengthAdjust="spacingAndGlyphs">18 Jan 12:00</text>
<text x="503" y="943" font-size="9.7" fill="#000" text-anchor="start" font-weight="normal" textLength="53" lengthAdjust="spacingAndGlyphs">19 Jan 20:00</text>
<text x="567" y="943" font-size="9.7" fill="#000" text-anchor="start" font-weight="normal" textLength="53" lengthAdjust="spacingAndGlyphs">21 Jan 04:00</text>
<text x="631" y="943" font-size="9.7" fill="#000" text-anchor="start" font-weight="normal" textLength="53" lengthAdjust="spacingAndGlyphs">24 Jan 08:00</text>
<text x="695" y="943" font-size="9.7" fill="#000" text-anchor="start" font-weight="normal" textLength="53" lengthAdjust="spacingAndGlyphs">25 Jan 16:00</text>
<text x="759" y="943" font-size="9.7" fill="#000" text-anchor="start" font-weight="normal" textLength="53" lengthAdjust="spacingAndGlyphs">27 Jan 00:00</text>
<text x="823" y="943" font-size="9.7" fill="#000" text-anchor="start" font-weight="normal" textLength="53" lengthAdjust="spacingAndGlyphs">28 Jan 08:00</text>
<text x="887" y="943" font-size="9.7" fill="#000" text-anchor="start" font-weight="normal" textLength="53" lengthAdjust="spacingAndGlyphs">31 Jan 12:00</text>
<text x="951" y="943" font-size="9.7" fill="#000" text-anchor="start" font-weight="normal" textLength="48" lengthAdjust="spacingAndGlyphs">1 Feb 20:00</text>
<text x="1015" y="943" font-size="9.7" fill="#000" text-anchor="start" font-weight="normal" textLength="48" lengthAdjust="spacingAndGlyphs">3 Feb 04:00</text>
<text x="1079" y="943" font-size="9.7" fill="#000" text-anchor="start" font-weight="normal" textLength="48" lengthAdjust="spacingAndGlyphs">4 Feb 12:00</text>
<text x="1143" y="943" font-size="9.7" fill="#000" text-anchor="start" font-weight="normal" textLength="48" lengthAdjust="spacingAndGlyphs">7 Feb 16:00</text>
<text x="1207" y="943" font-size="9.7" fill="#000" text-anchor="start" font-weight="normal" textLength="48" lengthAdjust="spacingAndGlyphs">9 Feb 00:00</text>
<text x="1271" y="943" font-size="9.7" fill="#000" text-anchor="start" font-weight="normal" textLength="53" lengthAdjust="spacingAndGlyphs">10 Feb 08:00</text>
<text x="1335" y="943" font-size="9.7" fill="#000" text-anchor="start" font-weight="normal" textLength="53" lengthAdjust="spacingAndGlyphs">11 Feb 16:00</text>
<text x="1399" y="943" font-size="9.7" fill="#000" text-anchor="start" font-weight="normal" textLength="53" lengthAdjust="spacingAndGlyphs">14 Feb 20:00</text>
<text x="7" y="41" font-size="9.7" fill="#000" text-anchor="start" font-weight="normal" textLength="38" lengthAdjust="spacingAndGlyphs">DJ30-,H4</text>
<text x="52.4" y="41" font-size="9.7" fill="#000" text-anchor="start" font-weight="normal" textLength="140.5" lengthAdjust="spacingAndGlyphs">34491.0 34501.0 34491.0 34497.0</text>
<text x="-2" y="611" font-size="9.7" fill="#000" text-anchor="start" font-weight="normal" textLength="131" lengthAdjust="spacingAndGlyphs">MACD(12,26,9) -217.44 -166.71</text>
<text x="-3" y="769" font-size="9.7" fill="#000" text-anchor="start" font-weight="normal" textLength="67" lengthAdjust="spacingAndGlyphs">RSI(14) 36.9593</text>
</g>
<rect x="1177.5" y="197.5" width="61" height="18" fill="#fff" stroke="#ff0000" stroke-width="1"/>
<text x="1180" y="213" font-size="17" fill="#ff0000" font-family="Liberation Sans, sans-serif" textLength="56" lengthAdjust="spacingAndGlyphs">35749.4</text>
<rect x="1238" y="206" width="11" height="1" fill="#ff0000" shape-rendering="crispEdges"/>
<rect x="1017.5" y="348.5" width="61" height="18" fill="#fff" stroke="#ff0000" stroke-width="1"/>
<text x="1020" y="364" font-size="17" fill="#ff0000" font-family="Liberation Sans, sans-serif" textLength="56" lengthAdjust="spacingAndGlyphs">34660.1</text>
<rect x="1078" y="357" width="11" height="1" fill="#ff0000" shape-rendering="crispEdges"/>
<rect x="1321.5" y="412.5" width="61" height="18" fill="#fff" stroke="#ff0000" stroke-width="1"/>
<text x="1324" y="428" font-size="17" fill="#ff0000" font-family="Liberation Sans, sans-serif" textLength="56" lengthAdjust="spacingAndGlyphs">34198.4</text>
<rect x="1383" y="421" width="10" height="1" fill="#ff0000" shape-rendering="crispEdges"/>
<rect x="1382.5" y="419.5" width="3" height="4" fill="#fff" stroke="#ff0000" stroke-width="1"/>
<rect x="1219.5" y="355.5" width="73" height="24" fill="#fff" stroke="#ff0000" stroke-width="1"/>
<text x="1222" y="376" font-size="23" fill="#ff0000" font-family="Liberation Sans, sans-serif" textLength="70" lengthAdjust="spacingAndGlyphs">34588.0</text>
<rect x="1209" y="367" width="8" height="1" fill="#ff0000" shape-rendering="crispEdges"/>
<rect x="1216.5" y="365.5" width="2" height="3" fill="#fff" stroke="#ff0000" stroke-width="1"/>
<path d="M1413 30.5h9M1414 31.5h7M1415 32.5h5M1416 33.5h3M1417 34.5h1" stroke="#c0c0c0" stroke-width="1" shape-rendering="crispEdges"/>
<polygon points="0,37 3,40 0,40" fill="#000"/>
<defs><linearGradient id="gb" x1="0" y1="0" x2="0" y2="1"><stop offset="0" stop-color="#5c5cff"/><stop offset="1" stop-color="#3838e6"/></linearGradient><linearGradient id="gp" x1="0" y1="0" x2="0" y2="1"><stop offset="0" stop-color="#4444ee"/><stop offset="0.55" stop-color="#2020d0"/><stop offset="1" stop-color="#0404a8"/></linearGradient><linearGradient id="gs" x1="0" y1="0" x2="0" y2="1"><stop offset="0" stop-color="#f4f4f4"/><stop offset="1" stop-color="#cfcfcf"/></linearGradient></defs>
<rect x="0" y="49" width="47" height="25" fill="url(#gb)"/>
<rect x="163" y="49" width="51" height="25" fill="url(#gb)"/>
<rect x="0" y="73" width="104" height="33" fill="url(#gp)"/>
<rect x="106" y="73" width="108" height="33" fill="url(#gp)"/>
<rect x="0" y="49" width="47" height="1" fill="#2a2ad0"/><rect x="163" y="49" width="51" height="1" fill="#2a2ad0"/>
<rect x="0" y="73" width="43" height="1" fill="#8c8cff"/><rect x="166" y="73" width="44" height="1" fill="#8c8cff"/>
<rect x="49.5" y="49.5" width="110" height="21" fill="#fff" stroke="#a8a8a8" stroke-width="1"/>
<rect x="51" y="51" width="18" height="18" fill="url(#gs)" stroke="#bcbcbc" stroke-width="0.6"/>
<rect x="140" y="51" width="18" height="18" fill="url(#gs)" stroke="#bcbcbc" stroke-width="0.6"/>
<polygon points="57,58 62,58 59.5,61" fill="#4a5aa8"/>
<polygon points="146,61 151,61 148.5,58" fill="#4a5aa8"/>
<text x="135" y="64" font-size="12.5" fill="#000" text-anchor="end" font-family="Liberation Sans, sans-serif">1.00</text>
<text x="8" y="65" font-size="12" fill="#fff" font-family="Liberation Sans, sans-serif" textLength="25" lengthAdjust="spacingAndGlyphs">SELL</text>
<text x="175.5" y="65" font-size="12" fill="#fff" font-family="Liberation Sans, sans-serif" textLength="23" lengthAdjust="spacingAndGlyphs">BUY</text>
<text x="11.5" y="100.5" font-size="11" font-weight="bold" fill="#fff" font-family="Liberation Sans, sans-serif" textLength="34" lengthAdjust="spacingAndGlyphs">34495</text>
<text x="49" y="101" font-size="33" fill="#fff" font-family="Liberation Sans, sans-serif" textLength="24" lengthAdjust="spacingAndGlyphs">.5</text>
<text x="121.5" y="100.5" font-size="11" font-weight="bold" fill="#fff" font-family="Liberation Sans, sans-serif" textLength="34" lengthAdjust="spacingAndGlyphs">34504</text>
<text x="159.5" y="101" font-size="33" fill="#fff" font-family="Liberation Sans, sans-serif" textLength="24" lengthAdjust="spacingAndGlyphs">.5</text>
<rect x="0" y="0" width="1698" height="25" fill="#f0f0f0"/>
<rect x="0" y="24" width="1698" height="1" fill="#f5f5f5"/>
<rect x="0" y="25" width="1697" height="1" fill="#a9a9a9"/>
<rect x="0" y="26" width="1697" height="1" fill="#696969"/>
<rect x="1697" y="25" width="1" height="924" fill="#ebebeb"/>
<path d="M-1 18.5 L3.5 22" stroke="#c8a020" stroke-width="3.2" stroke-linecap="butt"/>
<rect x="0" y="12" width="1" height="5" fill="#4a8fe0"/>
<rect x="12" y="2" width="1" height="21" fill="#a0a0a0" shape-rendering="crispEdges"/>
<path d="M23.5 5.7h7l3 3v9.8h-10.5a0.8 0.8 0 0 1 -0.8 -0.8v-11.2a0.8 0.8 0 0 1 0.8 -0.8z" fill="#fff" stroke="#6e6e6e" stroke-width="1"/>
<rect x="24.2" y="7.2" width="2.8" height="1.6" fill="#777"/>
<path d="M24.2 11.4h6.5M24.2 13.4h4.8M24.2 15.5h3" stroke="#777" stroke-width="1"/>
<path d="M30.5 11.5h3.5v4h4v3.5h-4v4h-3.5v-4h-4v-3.5h4z" fill="#18e048" stroke="#067a06" stroke-width="1"/>
<text x="41" y="16" font-size="12.6" fill="#000" font-family="Liberation Sans, sans-serif" textLength="64.5" lengthAdjust="spacingAndGlyphs">New Order</text>
<defs><linearGradient id="gold" x1="0" y1="0" x2="1" y2="1"><stop offset="0" stop-color="#d9a520"/><stop offset="0.45" stop-color="#ffe36a"/><stop offset="1" stop-color="#c8920e"/></linearGradient><linearGradient id="cl" x1="0" y1="0" x2="0" y2="1"><stop offset="0" stop-color="#ffffff"/><stop offset="1" stop-color="#c4d2ea"/></linearGradient><linearGradient id="fun" x1="0" y1="0" x2="1" y2="1"><stop offset="0" stop-color="#fff08a"/><stop offset="1" stop-color="#e8b010"/></linearGradient><radialGradient id="sg" cx="0.5" cy="0.5" r="0.5"><stop offset="0" stop-color="#ffffff"/><stop offset="1" stop-color="#7fb87f"/></radialGradient></defs>
<path d="M123 6.2 L133.7 13 L125.9 20.7 L118.2 15.2 C119.5 12 121 9 123 6.2Z" fill="url(#gold)" stroke="#a8740c" stroke-width="0.9"/>
<path d="M118.4 15.6 L125.9 21 L133.7 13.4" fill="none" stroke="#fff0b8" stroke-width="1"/>
<path d="M118.2 16.4 L125.9 21.8 L133.9 14" fill="none" stroke="#a8740c" stroke-width="0.8"/>
<path d="M148.5 6.5 L152 5.2 L159.5 5.6 L159.5 15 L148.5 15Z" fill="#2f94ee" stroke="#1668c8" stroke-width="0.8"/>
<path d="M148.5 6.5 L151.5 7.5 L151.5 15 L148.5 15Z" fill="#0f6fd8"/>
<path d="M151.5 7.5 L159.5 6.5" stroke="#bfe0ff" stroke-width="0.8"/>
<rect x="153" y="9" width="5" height="1.4" fill="#e8f4ff"/><rect x="153" y="11.6" width="5" height="1.2" fill="#9fd0ff"/>
<path d="M149.3 20.5 a2.9 2.9 0 0 1 -0.3 -5.8 a3.6 3.6 0 0 1 6.4 -1.3 a3 3 0 0 1 4.4 2.3 a2.5 2.5 0 0 1 -0.6 4.8z" fill="url(#cl)" stroke="#5878b8" stroke-width="0.9"/>
<path d="M182 12.6 L182 20.6 A8 8 0 0 0 190 12.6 A8 8 0 0 0 186 5.7Z" fill="url(#sg)" opacity="0.75"/>
<circle cx="182" cy="12.6" r="7.5" fill="none" stroke="#86a8e4" stroke-width="1.1" stroke-dasharray="30 17.1" transform="rotate(100 182 12.6)"/>
<circle cx="182" cy="12.6" r="5" fill="none" stroke="#5f8ade" stroke-width="1.1" stroke-dasharray="20 11.4" transform="rotate(100 182 12.6)"/>
<circle cx="182" cy="12.6" r="7.5" fill="none" stroke="#6fae6f" stroke-width="1.1" stroke-dasharray="14 33.1" transform="rotate(-30 182 12.6)"/>
<circle cx="182" cy="12.6" r="5" fill="none" stroke="#7fb87f" stroke-width="1" stroke-dasharray="9 22.4" transform="rotate(-30 182 12.6)"/>
<path d="M182.3 13 V20.6" stroke="#22a022" stroke-width="1.5"/>
<circle cx="182" cy="12.4" r="1.9" fill="#2458d0"/>
<path d="M201.7 12 L217 11.7 L210.5 20.6 L208 20.4 Z" fill="url(#fun)" stroke="#d09a10" stroke-width="0.8"/>
<ellipse cx="209" cy="9.8" rx="8" ry="2.7" fill="#4a9fd8" stroke="#2a78b8" stroke-width="0.8"/>
<path d="M205.2 9.2 C205.2 4.2 213 4.2 213 9.2 C210 10.4 208 10.4 205.2 9.2Z" fill="#7cc0ee" stroke="#2a78b8" stroke-width="0.7"/>
<circle cx="213.7" cy="16.5" r="4" fill="#e42a12"/>
<rect x="212.3" y="15.1" width="2.8" height="2.8" fill="#fff"/>
<text x="222" y="16" font-size="12.6" fill="#000" font-family="Liberation Sans, sans-serif" textLength="71" lengthAdjust="spacingAndGlyphs">AutoTrading</text>
<rect x="301" y="0" width="1" height="25" fill="#8c8c8c" shape-rendering="crispEdges"/>
<rect x="302" y="0" width="1" height="25" fill="#ffffff" shape-rendering="crispEdges"/>
<rect x="305" y="3" width="3" height="1" fill="#a4a4a4" shape-rendering="crispEdges"/>
<rect x="305" y="5" width="3" height="1" fill="#a4a4a4" shape-rendering="crispEdges"/>
<rect x="305" y="7" width="3" height="1" fill="#a4a4a4" shape-rendering="crispEdges"/>
<rect x="305" y="9" width="3" height="1" fill="#a4a4a4" shape-rendering="crispEdges"/>
<rect x="305" y="11" width="3" height="1" fill="#a4a4a4" shape-rendering="crispEdges"/>
<rect x="305" y="13" width="3" height="1" fill="#a4a4a4" shape-rendering="crispEdges"/>
<rect x="305" y="15" width="3" height="1" fill="#a4a4a4" shape-rendering="crispEdges"/>
<rect x="305" y="17" width="3" height="1" fill="#a4a4a4" shape-rendering="crispEdges"/>
<rect x="305" y="19" width="3" height="1" fill="#a4a4a4" shape-rendering="crispEdges"/>
<rect x="305" y="21" width="3" height="1" fill="#a4a4a4" shape-rendering="crispEdges"/>
<path d="M319.5 7V21M317.5 18.5H331" stroke="#444" stroke-width="1" fill="none" shape-rendering="crispEdges"/>
<path d="M318 9.5L319.5 7L321 9.5M328.5 17L331 18.5L328.5 20" stroke="#444" stroke-width="1" fill="none"/>
<path d="M325.5 8V17M325.5 9.5H328M323 15.5H325.5" stroke="#1a8a1a" stroke-width="1.2" fill="none"/>
<rect x="339" y="1" width="26" height="23" fill="#f7f7f7"/>
<path d="M339.5 24V1.5H365" fill="none" stroke="#a8a8a8" stroke-width="1"/>
<path d="M364.5 2V23.5H340" fill="none" stroke="#ffffff" stroke-width="1"/>
<path d="M347.5 7V21M345.5 18.5H359" stroke="#444" stroke-width="1" fill="none" shape-rendering="crispEdges"/>
<path d="M346 9.5L347.5 7L349 9.5M356.5 17L359 18.5L356.5 20" stroke="#444" stroke-width="1" fill="none"/>
<rect x="351.5" y="7.5" width="4" height="8" fill="#30d040" stroke="#0a7a0a" stroke-width="1"/><path d="M353.5 5.5v2M353.5 15.5v2" stroke="#0a7a0a" stroke-width="1.4"/>
<path d="M375.5 7V21M373.5 18.5H387" stroke="#444" stroke-width="1" fill="none" shape-rendering="crispEdges"/>
<path d="M374 9.5L375.5 7L377 9.5M384.5 17L387 18.5L384.5 20" stroke="#444" stroke-width="1" fill="none"/>
<path d="M374 16 C376 12 379 9.5 381 10.5 S384 14 386.5 14.5" stroke="#1a8a1a" stroke-width="1.1" fill="none"/>
<rect x="396" y="2" width="1" height="21" fill="#a0a0a0" shape-rendering="crispEdges"/>
<path d="M415 14.5 L420 20" stroke="#c8a428" stroke-width="3" stroke-linecap="round"/>
<circle cx="411" cy="10.8" r="5.2" fill="#d8ecfa" stroke="#3a78c8" stroke-width="1.4"/>
<path d="M408.5 10.8H413.5" stroke="#2a68b8" stroke-width="1.6"/>
<path d="M411 8.3V13.3" stroke="#2a68b8" stroke-width="1.6"/>
<path d="M443 14.5 L448 20" stroke="#c8a428" stroke-width="3" stroke-linecap="round"/>
<circle cx="439" cy="10.8" r="5.2" fill="#d8ecfa" stroke="#3a78c8" stroke-width="1.4"/>
<path d="M436.5 10.8H441.5" stroke="#2a68b8" stroke-width="1.6"/>
<rect x="461" y="5" width="8" height="8" fill="#3a9a1a"/>
<rect x="462.5" y="8.5" width="5" height="3" fill="none" stroke="#fff" stroke-width="1"/>
<rect x="469" y="5" width="8" height="8" fill="#1848c8"/>
<rect x="470.5" y="8.5" width="5" height="3" fill="none" stroke="#fff" stroke-width="1"/>
<rect x="461" y="13" width="8" height="8" fill="#1848c8"/>
<rect x="462.5" y="16.5" width="5" height="3" fill="none" stroke="#fff" stroke-width="1"/>
<rect x="469" y="13" width="8" height="8" fill="#3a9a1a"/>
<rect x="470.5" y="16.5" width="5" height="3" fill="none" stroke="#fff" stroke-width="1"/>
<rect x="486" y="2" width="1" height="21" fill="#a0a0a0" shape-rendering="crispEdges"/>
<rect x="491" y="1" width="26" height="23" fill="#f7f7f7"/>
<path d="M491.5 24V1.5H517" fill="none" stroke="#a8a8a8" stroke-width="1"/>
<path d="M516.5 2V23.5H492" fill="none" stroke="#ffffff" stroke-width="1"/>
<path d="M499.5 7V21M497.5 18.5H511" stroke="#444" stroke-width="1" fill="none" shape-rendering="crispEdges"/>
<path d="M498 9.5L499.5 7L501 9.5M508.5 17L511 18.5L508.5 20" stroke="#444" stroke-width="1" fill="none"/>
<polygon points="504.5,9 504.5,16 509.5,12.5" fill="#8fe08f" stroke="#109010" stroke-width="1"/>
<rect x="519" y="1" width="26" height="23" fill="#f7f7f7"/>
<path d="M519.5 24V1.5H545" fill="none" stroke="#a8a8a8" stroke-width="1"/>
<path d="M544.5 2V23.5H520" fill="none" stroke="#ffffff" stroke-width="1"/>
<path d="M527.5 7V21M525.5 18.5H539" stroke="#444" stroke-width="1" fill="none" shape-rendering="crispEdges"/>
<path d="M526 9.5L527.5 7L529 9.5M536.5 17L539 18.5L536.5 20" stroke="#444" stroke-width="1" fill="none"/>
<path d="M533.5 7V18" stroke="#2060b0" stroke-width="1.4"/><path d="M539 12.5H535M537 10.5L535 12.5L537 14.5" stroke="#d03010" stroke-width="1.3" fill="none"/>
<rect x="548" y="2" width="1" height="21" fill="#a0a0a0" shape-rendering="crispEdges"/>
<path d="M558.5 5.5h7l3 3v9h-10z" fill="#fff" stroke="#666" stroke-width="1"/>
<path d="M561.5 9v7M561.5 11h2" stroke="#555" stroke-width="1"/>
<path d="M566.5 11.5h3.5v4h4v3.5h-4v4h-3.5v-4h-4v-3.5h4z" fill="#18e048" stroke="#067a06" stroke-width="1"/>
<polygon points="580,12 585,12 582.5,15" fill="#000"/>
<circle cx="604" cy="13" r="7.5" fill="#2a78d8" stroke="#1450a0" stroke-width="1"/><circle cx="604" cy="13" r="5.3" fill="#f4f8ff"/>
<path d="M604 9.5V13.5H607" stroke="#333" stroke-width="1.2" fill="none"/>
<polygon points="619,12 624,12 621.5,15" fill="#000"/>
<rect x="635.5" y="6.5" width="15" height="13" fill="#fff" stroke="#3a78c8" stroke-width="1"/><rect x="635" y="6" width="16" height="2.5" fill="#3a78c8"/>
<path d="M637 12.5l3-1.5 3 1 3-2 3 .5" stroke="#b03010" stroke-width="1.2" fill="none"/><path d="M637 17.5l3-1 3 1 3-2 3 1.5" stroke="#1a9a1a" stroke-width="1.2" fill="none"/><path d="M636 14.5h14" stroke="#8ab0e0" stroke-width="0.8"/>
<polygon points="658,12 663,12 660.5,15" fill="#000"/>
<rect x="669" y="0" width="1" height="25" fill="#8c8c8c" shape-rendering="crispEdges"/>
<rect x="670" y="0" width="1" height="25" fill="#ffffff" shape-rendering="crispEdges"/>
<rect x="673" y="3" width="3" height="1" fill="#a4a4a4" shape-rendering="crispEdges"/>
<rect x="673" y="5" width="3" height="1" fill="#a4a4a4" shape-rendering="crispEdges"/>
<rect x="673" y="7" width="3" height="1" fill="#a4a4a4" shape-rendering="crispEdges"/>
<rect x="673" y="9" width="3" height="1" fill="#a4a4a4" shape-rendering="crispEdges"/>
<rect x="673" y="11" width="3" height="1" fill="#a4a4a4" shape-rendering="crispEdges"/>
<rect x="673" y="13" width="3" height="1" fill="#a4a4a4" shape-rendering="crispEdges"/>
<rect x="673" y="15" width="3" height="1" fill="#a4a4a4" shape-rendering="crispEdges"/>
<rect x="673" y="17" width="3" height="1" fill="#a4a4a4" shape-rendering="crispEdges"/>
<rect x="673" y="19" width="3" height="1" fill="#a4a4a4" shape-rendering="crispEdges"/>
<rect x="673" y="21" width="3" height="1" fill="#a4a4a4" shape-rendering="crispEdges"/>
<rect x="679" y="1" width="26" height="23" fill="#f7f7f7"/>
<path d="M679.5 24V1.5H705" fill="none" stroke="#a8a8a8" stroke-width="1"/>
<path d="M704.5 2V23.5H680" fill="none" stroke="#ffffff" stroke-width="1"/>
<path d="M687.5 6 V18 L690.3 15.3 L692.3 20 L694 19.2 L692 14.7 L695.8 14.5 Z" fill="#444"/>
<path d="M719.5 6V21M712 13.5H727" stroke="#444" stroke-width="1" shape-rendering="crispEdges"/>
<rect x="736" y="2" width="1" height="21" fill="#a0a0a0" shape-rendering="crispEdges"/>
<rect x="753" y="7" width="1" height="13" fill="#444"/>
<rect x="776" y="13" width="12" height="1" fill="#444"/>
<path d="M804 20L816 8" stroke="#444" stroke-width="1.2"/>
<path d="M830 16L842 7M832 20L844 11" stroke="#444" stroke-width="1"/><path d="M833 12.5v6M836.5 10v6M840 7.5v6" stroke="#444" stroke-width="1"/>
<text x="841" y="22" font-size="7" font-weight="bold" fill="#333" font-family="Liberation Sans, sans-serif">E</text>
<path d="M859 6.5H873" stroke="#555" stroke-width="1" stroke-dasharray="1,1" shape-rendering="crispEdges"/>
<path d="M859 10.5H873" stroke="#555" stroke-width="1" stroke-dasharray="1,1" shape-rendering="crispEdges"/>
<path d="M859 14.5H873" stroke="#555" stroke-width="1" stroke-dasharray="1,1" shape-rendering="crispEdges"/>
<path d="M859 18.5H873" stroke="#555" stroke-width="1" stroke-dasharray="1,1" shape-rendering="crispEdges"/>
<text x="869" y="22" font-size="7" font-weight="bold" fill="#333" font-family="Liberation Sans, sans-serif">F</text>
<text x="889" y="18" font-size="12.5" font-weight="bold" fill="#666" font-family="Liberation Sans, sans-serif" textLength="8.5" lengthAdjust="spacingAndGlyphs">A</text>
<rect x="916.5" y="7.5" width="11" height="12" fill="none" stroke="#555" stroke-width="1" stroke-dasharray="1,1"/>
<text x="918" y="18" font-size="11" font-weight="bold" fill="#555" font-family="Liberation Sans, sans-serif">T</text>
<polygon points="946,7 949,10 946,13 943,10" fill="#444"/><polygon points="953,13 957,16.5 953,20 949,16.5" fill="#444"/><path d="M946 13l2.5 3 3-5" stroke="#444" stroke-width="1.2" fill="none"/>
<polygon points="964,12 969,12 966.5,15" fill="#000"/>
<rect x="975" y="0" width="1" height="25" fill="#8c8c8c" shape-rendering="crispEdges"/>
<rect x="976" y="0" width="1" height="25" fill="#ffffff" shape-rendering="crispEdges"/>
<rect x="979" y="3" width="3" height="1" fill="#a4a4a4" shape-rendering="crispEdges"/>
<rect x="979" y="5" width="3" height="1" fill="#a4a4a4" shape-rendering="crispEdges"/>
<rect x="979" y="7" width="3" height="1" fill="#a4a4a4" shape-rendering="crispEdges"/>
<rect x="979" y="9" width="3" height="1" fill="#a4a4a4" shape-rendering="crispEdges"/>
<rect x="979" y="11" width="3" height="1" fill="#a4a4a4" shape-rendering="crispEdges"/>
<rect x="979" y="13" width="3" height="1" fill="#a4a4a4" shape-rendering="crispEdges"/>
<rect x="979" y="15" width="3" height="1" fill="#a4a4a4" shape-rendering="crispEdges"/>
<rect x="979" y="17" width="3" height="1" fill="#a4a4a4" shape-rendering="crispEdges"/>
<rect x="979" y="19" width="3" height="1" fill="#a4a4a4" shape-rendering="crispEdges"/>
<rect x="979" y="21" width="3" height="1" fill="#a4a4a4" shape-rendering="crispEdges"/>
<rect x="1125" y="1" width="26" height="23" fill="#f7f7f7"/>
<path d="M1125.5 24V1.5H1151" fill="none" stroke="#a8a8a8" stroke-width="1"/>
<path d="M1150.5 2V23.5H1126" fill="none" stroke="#ffffff" stroke-width="1"/>
<text x="990" y="17" font-size="9.4" fill="#3c3c3c" font-family="Liberation Sans, sans-serif" textLength="14" lengthAdjust="spacingAndGlyphs">M1</text>
<text x="1018" y="17" font-size="9.4" fill="#3c3c3c" font-family="Liberation Sans, sans-serif" textLength="14" lengthAdjust="spacingAndGlyphs">M5</text>
<text x="1044" y="17" font-size="9.4" fill="#3c3c3c" font-family="Liberation Sans, sans-serif" textLength="19" lengthAdjust="spacingAndGlyphs">M15</text>
<text x="1072" y="17" font-size="9.4" fill="#3c3c3c" font-family="Liberation Sans, sans-serif" textLength="19" lengthAdjust="spacingAndGlyphs">M30</text>
<text x="1103" y="17" font-size="9.4" fill="#3c3c3c" font-family="Liberation Sans, sans-serif" textLength="12.5" lengthAdjust="spacingAndGlyphs">H1</text>
<text x="1131" y="17" font-size="9.4" fill="#3c3c3c" font-family="Liberation Sans, sans-serif" textLength="12.5" lengthAdjust="spacingAndGlyphs">H4</text>
<text x="1159" y="17" font-size="9.4" fill="#3c3c3c" font-family="Liberation Sans, sans-serif" textLength="12.5" lengthAdjust="spacingAndGlyphs">D1</text>
<text x="1186" y="17" font-size="9.4" fill="#3c3c3c" font-family="Liberation Sans, sans-serif" textLength="16" lengthAdjust="spacingAndGlyphs">W1</text>
<text x="1213" y="17" font-size="9.4" fill="#3c3c3c" font-family="Liberation Sans, sans-serif" textLength="15.5" lengthAdjust="spacingAndGlyphs">MN</text>
<rect x="1236" y="0" width="1" height="25" fill="#a0a0a0" shape-rendering="crispEdges"/>
<path d="M1650 14L1646 18" stroke="#2a58c8" stroke-width="2.6" stroke-linecap="round"/><circle cx="1653.5" cy="10.5" r="4" fill="#f4f4fa" stroke="#2a58c8" stroke-width="1.3"/>
<ellipse cx="1676" cy="15" rx="6" ry="5" fill="#dfe2ea" stroke="#c4c8d4" stroke-width="0.8"/><path d="M1673 19l0.5 3 3-3z" fill="#dfe2ea"/>
<circle cx="1684.3" cy="10.3" r="8.2" fill="#e23a22"/>
<text x="1684.3" y="15" font-size="13" fill="#fff" text-anchor="middle" font-family="Liberation Sans, sans-serif">1</text>
</svg>
</body></html>
